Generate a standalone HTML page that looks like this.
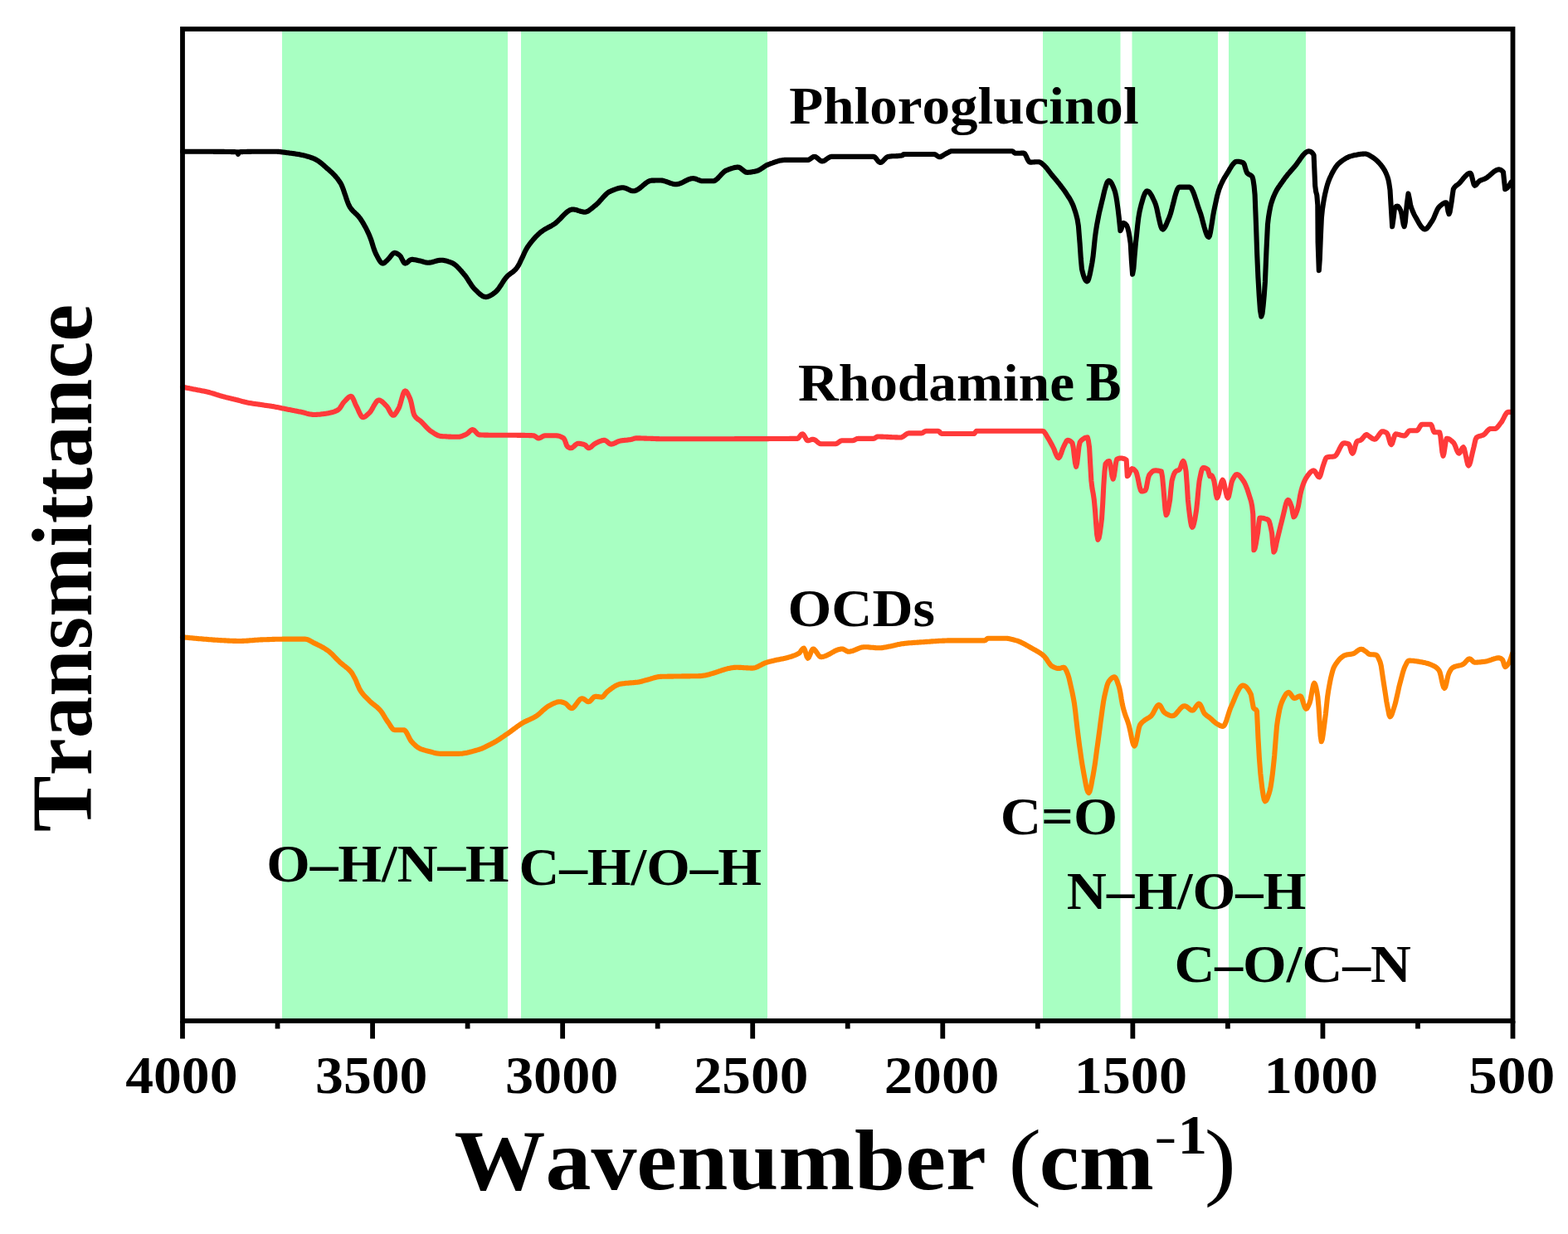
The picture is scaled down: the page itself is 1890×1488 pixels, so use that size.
<!DOCTYPE html>
<html><head><meta charset="utf-8"><title>FTIR spectra</title>
<style>
html,body{margin:0;padding:0;background:#fff;}
svg{display:block;}
#w{width:1890px;height:1488px;}
text{font-family:'Liberation Serif','Times New Roman',serif;font-weight:bold;fill:#000;font-kerning:none;}
</style></head><body>
<div id="w"><svg width="1890" height="1488" viewBox="0 0 1890 1488">
<rect width="1890" height="1488" fill="#fff"/>
<rect x="340" y="35.0" width="272" height="1196.0" fill="#a8ffc2"/>
<rect x="628" y="35.0" width="297" height="1196.0" fill="#a8ffc2"/>
<rect x="1257" y="35.0" width="93.5" height="1196.0" fill="#a8ffc2"/>
<rect x="1364.5" y="35.0" width="103.5" height="1196.0" fill="#a8ffc2"/>
<rect x="1481" y="35.0" width="93" height="1196.0" fill="#a8ffc2"/>
<g fill="none" stroke-linejoin="round" stroke-linecap="round" stroke-width="6.1">
<polyline stroke="#000" points="220.0,182.7 221.0,182.7 222.0,182.7 223.0,182.7 224.0,182.7 225.0,182.7 226.0,182.7 227.0,182.7 228.0,182.7 229.0,182.8 230.0,182.8 231.0,182.8 232.0,182.8 233.0,182.8 234.0,182.8 235.0,182.8 236.0,182.8 237.0,182.8 238.0,182.8 239.0,182.8 240.0,182.8 241.0,182.8 242.0,182.8 243.0,182.8 244.0,182.8 245.0,182.8 246.0,182.8 247.0,182.8 248.0,182.8 249.0,182.8 250.0,182.8 251.0,182.8 252.0,182.8 253.0,182.8 254.0,182.8 255.0,182.8 256.0,182.8 257.0,182.8 258.0,182.9 259.0,182.9 260.0,182.9 261.0,182.9 262.0,182.9 263.0,182.9 264.0,182.9 265.0,182.9 266.0,182.9 267.0,182.9 268.0,182.9 269.0,182.9 270.0,182.9 271.0,183.0 272.0,183.0 273.0,183.0 274.0,183.0 275.0,183.0 276.0,183.0 277.0,183.0 278.0,183.0 279.0,183.1 280.0,183.1 281.0,183.1 282.0,183.1 283.0,183.1 284.0,183.2 285.0,183.2 286.0,183.2 287.0,185.8 288.0,183.2 289.0,183.2 290.0,183.1 291.0,183.1 292.0,183.1 293.0,183.0 294.0,183.0 295.0,183.0 296.0,183.0 297.0,183.0 298.0,182.9 299.0,182.9 300.0,182.9 301.0,182.9 302.0,182.9 303.0,182.8 304.0,182.8 305.0,182.8 306.0,182.8 307.0,182.8 308.0,182.8 309.0,182.8 310.0,182.8 311.0,182.8 312.0,182.7 313.0,182.7 314.0,182.7 315.0,182.7 316.0,182.7 317.0,182.7 318.0,182.7 319.0,182.7 320.0,182.7 321.0,182.7 322.0,182.7 323.0,182.7 324.0,182.7 325.0,182.7 326.0,182.7 327.0,182.7 328.0,182.7 329.0,182.7 330.0,182.7 331.0,182.7 332.0,182.7 333.0,182.7 334.0,182.8 335.0,182.9 336.0,182.9 337.0,183.0 338.0,183.1 339.0,183.3 340.0,183.4 341.0,183.5 342.0,183.6 343.0,183.8 344.0,183.9 345.0,184.0 346.0,184.2 347.0,184.3 348.1,184.4 349.1,184.6 350.2,184.7 351.2,184.8 352.3,185.0 353.4,185.1 354.4,185.3 355.5,185.4 356.5,185.6 357.6,185.7 358.7,185.9 359.7,186.1 360.8,186.3 361.8,186.5 362.9,186.7 364.0,186.9 365.0,187.1 366.1,187.4 367.1,187.6 368.2,187.9 369.2,188.2 370.3,188.5 371.3,188.8 372.4,189.1 373.4,189.4 374.5,189.8 375.5,190.2 376.6,190.5 377.6,191.0 378.7,191.4 379.8,191.9 380.8,192.4 381.9,193.1 382.9,193.7 384.0,194.4 385.1,195.2 386.1,196.0 387.2,196.8 388.2,197.7 389.3,198.6 390.4,199.5 391.4,200.5 392.5,201.4 393.5,202.4 394.6,203.3 395.7,204.2 396.7,205.2 397.8,206.1 398.8,207.1 399.9,208.1 401.0,209.1 402.0,210.1 403.1,211.2 404.1,212.4 405.2,213.6 406.3,214.9 407.3,216.2 408.4,217.7 409.4,219.2 410.5,220.8 411.5,222.7 412.5,225.0 413.5,227.6 414.5,230.5 415.5,233.5 416.6,236.6 417.6,239.7 418.6,242.6 419.6,245.2 420.6,247.5 421.6,249.4 422.7,251.0 423.7,252.4 424.8,253.6 425.8,254.8 426.9,255.8 428.0,256.8 429.0,257.8 430.1,258.8 431.1,259.9 432.2,261.0 433.2,262.3 434.3,263.7 435.3,265.2 436.3,266.7 437.3,268.4 438.3,270.1 439.3,271.9 440.4,273.8 441.4,275.7 442.4,277.8 443.4,279.9 444.4,282.1 445.4,284.3 446.5,287.1 447.7,290.4 448.8,294.0 449.9,297.6 451.0,301.0 452.2,304.0 453.3,306.5 454.3,308.4 455.3,310.3 456.3,312.2 457.3,313.9 458.3,315.4 459.3,316.6 460.3,317.3 461.3,317.6 462.4,317.4 463.4,316.8 464.5,315.9 465.5,314.9 466.6,313.9 467.6,312.9 468.6,311.9 469.6,310.7 470.6,309.4 471.6,308.1 472.6,306.8 473.6,305.8 474.6,305.2 475.6,304.9 476.7,305.0 477.7,305.4 478.8,305.9 479.8,306.6 480.8,307.3 481.9,308.1 483.0,309.4 484.0,311.3 485.1,313.5 486.2,315.5 487.2,317.0 488.3,317.6 489.4,317.3 490.6,316.7 491.7,315.8 492.8,314.7 493.9,313.8 495.1,313.2 496.2,312.9 497.3,312.9 498.3,313.0 499.4,313.2 500.4,313.3 501.5,313.5 502.5,313.7 503.6,314.0 504.6,314.2 505.7,314.4 506.7,314.6 507.7,314.9 508.8,315.2 509.8,315.5 510.8,315.8 511.8,316.1 512.8,316.4 513.9,316.6 514.9,316.8 515.9,316.8 517.0,316.8 518.0,316.6 519.1,316.5 520.1,316.3 521.2,316.0 522.2,315.7 523.3,315.4 524.3,315.1 525.4,314.8 526.4,314.5 527.5,314.2 528.5,314.0 529.6,313.9 530.6,313.7 531.7,313.7 532.8,313.7 533.8,313.8 534.9,314.0 535.9,314.1 537.0,314.4 538.0,314.6 539.1,314.9 540.2,315.3 541.2,315.6 542.3,316.0 543.3,316.4 544.4,316.8 545.5,317.3 546.5,317.9 547.6,318.6 548.6,319.4 549.7,320.2 550.8,321.2 551.8,322.3 552.9,323.4 553.9,324.5 555.0,325.7 556.1,326.9 557.1,328.2 558.2,329.4 559.2,330.7 560.3,331.9 561.3,333.2 562.3,334.6 563.3,336.1 564.3,337.7 565.3,339.3 566.4,340.9 567.4,342.5 568.4,344.0 569.4,345.4 570.4,346.7 571.4,347.8 572.4,348.8 573.4,349.8 574.5,350.9 575.5,351.9 576.5,352.9 577.5,353.8 578.5,354.7 579.6,355.5 580.6,356.2 581.6,356.9 582.6,357.4 583.7,357.8 584.7,358.0 585.7,358.1 586.7,358.0 587.7,357.8 588.7,357.5 589.7,357.1 590.7,356.6 591.8,356.0 592.8,355.4 593.8,354.7 594.8,354.0 595.8,353.2 596.8,352.5 597.8,351.7 598.8,350.6 599.9,349.4 600.9,348.1 601.9,346.7 602.9,345.1 604.0,343.6 605.0,342.0 606.0,340.4 607.0,338.8 608.0,337.3 609.1,335.9 610.1,334.6 611.1,333.5 612.1,332.5 613.1,331.6 614.1,330.8 615.1,330.0 616.1,329.3 617.2,328.6 618.2,327.8 619.2,327.0 620.2,326.1 621.2,325.1 622.2,324.0 623.2,322.7 624.2,321.1 625.3,319.3 626.3,317.4 627.3,315.3 628.3,313.1 629.4,310.9 630.4,308.7 631.4,306.5 632.4,304.3 633.4,302.2 634.5,300.3 635.5,298.5 636.5,297.0 637.6,295.5 638.6,294.1 639.7,292.7 640.7,291.4 641.8,290.1 642.9,288.8 643.9,287.6 645.0,286.4 646.0,285.3 647.1,284.2 648.2,283.2 649.2,282.2 650.3,281.2 651.3,280.3 652.4,279.5 653.5,278.7 654.5,278.0 655.6,277.3 656.6,276.6 657.7,276.0 658.8,275.4 659.8,274.8 660.9,274.3 661.9,273.7 663.0,273.1 664.1,272.6 665.1,272.0 666.2,271.3 667.2,270.7 668.3,270.0 669.3,269.3 670.3,268.5 671.3,267.6 672.3,266.7 673.3,265.7 674.4,264.6 675.4,263.6 676.4,262.5 677.4,261.5 678.4,260.4 679.4,259.4 680.4,258.4 681.4,257.4 682.4,256.5 683.4,255.7 684.4,254.9 685.5,254.2 686.5,253.6 687.5,253.1 688.5,252.8 689.5,252.6 690.5,252.5 691.5,252.5 692.5,252.7 693.6,252.9 694.6,253.1 695.6,253.4 696.6,253.8 697.6,254.1 698.7,254.4 699.7,254.8 700.7,255.1 701.7,255.3 702.8,255.5 703.8,255.7 704.8,255.7 705.9,255.6 706.9,255.3 708.0,254.9 709.0,254.4 710.1,253.7 711.1,252.9 712.2,252.1 713.3,251.3 714.3,250.4 715.4,249.5 716.4,248.6 717.5,247.8 718.5,247.0 719.5,246.1 720.6,245.1 721.6,244.0 722.6,242.9 723.6,241.7 724.7,240.6 725.7,239.4 726.7,238.2 727.7,237.1 728.8,236.0 729.8,235.0 730.8,234.0 731.8,233.1 732.9,232.3 733.9,231.6 734.9,231.1 736.0,230.6 737.0,230.1 738.1,229.7 739.1,229.2 740.2,228.8 741.3,228.4 742.3,228.0 743.4,227.6 744.4,227.3 745.5,227.0 746.6,226.8 747.6,226.6 748.7,226.4 749.7,226.3 750.8,226.3 751.9,226.4 752.9,226.6 754.0,226.9 755.0,227.3 756.1,227.8 757.1,228.3 758.2,228.8 759.3,229.3 760.3,229.7 761.4,230.0 762.4,230.2 763.5,230.3 764.5,230.2 765.5,230.0 766.5,229.7 767.5,229.2 768.5,228.6 769.6,228.0 770.6,227.3 771.6,226.5 772.6,225.7 773.6,224.9 774.6,224.0 775.6,223.1 776.6,222.3 777.6,221.5 778.6,220.7 779.6,220.0 780.7,219.3 781.7,218.8 782.7,218.3 783.7,217.9 784.7,217.7 785.7,217.6 786.7,217.6 787.7,217.6 788.8,217.6 789.8,217.5 790.8,217.5 791.8,217.5 792.8,217.5 793.9,217.5 794.9,217.5 795.9,217.5 796.9,217.5 797.9,217.6 798.9,217.8 799.9,218.0 800.9,218.3 801.9,218.6 802.9,218.9 803.9,219.3 804.9,219.7 805.9,220.0 806.9,220.4 807.9,220.8 808.9,221.1 809.9,221.4 810.9,221.7 811.9,221.9 812.9,222.1 813.9,222.2 814.9,222.2 815.9,222.1 817.0,222.0 818.0,221.8 819.0,221.5 820.1,221.1 821.1,220.7 822.1,220.2 823.2,219.7 824.2,219.2 825.2,218.6 826.3,218.1 827.3,217.6 828.4,217.1 829.4,216.6 830.4,216.2 831.5,215.8 832.5,215.5 833.5,215.3 834.6,215.2 835.6,215.1 836.6,215.2 837.6,215.4 838.6,215.7 839.6,216.1 840.6,216.5 841.7,216.9 842.7,217.3 843.7,217.7 844.7,218.0 845.7,218.2 846.7,218.3 847.8,218.3 848.8,218.3 849.9,218.3 850.9,218.3 852.0,218.3 853.0,218.3 854.1,218.3 855.2,218.3 856.2,218.3 857.3,218.3 858.3,218.3 859.4,218.3 860.5,218.2 861.5,217.8 862.6,217.2 863.6,216.4 864.7,215.5 865.7,214.5 866.8,213.3 867.8,212.2 868.9,211.0 869.9,209.9 871.0,208.8 872.0,207.8 873.1,206.9 874.1,206.1 875.2,205.6 876.2,205.2 877.2,204.8 878.3,204.3 879.3,203.9 880.3,203.6 881.3,203.2 882.4,202.9 883.4,202.6 884.4,202.3 885.4,202.0 886.4,201.9 887.5,201.7 888.5,201.6 889.5,201.6 890.5,201.7 891.5,202.1 892.5,202.8 893.5,203.5 894.5,204.3 895.6,205.2 896.6,206.0 897.6,206.7 898.6,207.4 899.6,207.8 900.6,207.9 901.6,207.9 902.6,207.8 903.6,207.7 904.6,207.6 905.6,207.5 906.7,207.3 907.7,207.1 908.7,206.9 909.7,206.7 910.7,206.5 911.7,206.3 912.7,206.0 913.7,205.6 914.8,205.1 915.8,204.6 916.8,204.0 917.8,203.3 918.9,202.6 919.9,201.9 920.9,201.2 921.9,200.5 922.9,199.9 924.0,199.3 925.0,198.8 926.0,198.4 927.0,198.0 928.1,197.6 929.1,197.2 930.1,196.9 931.2,196.5 932.2,196.1 933.2,195.7 934.3,195.4 935.3,195.0 936.4,194.7 937.4,194.4 938.4,194.1 939.5,193.8 940.5,193.6 941.5,193.4 942.6,193.2 943.6,193.1 944.6,193.0 945.7,192.9 946.7,192.9 947.7,192.9 948.7,192.9 949.7,192.9 950.7,192.9 951.7,192.9 952.7,192.9 953.7,192.9 954.7,192.9 955.7,192.9 956.7,192.9 957.7,192.9 958.7,192.9 959.7,192.9 960.7,192.9 961.7,192.9 962.7,192.9 963.7,192.9 964.7,192.9 965.7,192.9 966.7,192.9 967.7,192.9 968.7,192.9 969.7,192.9 970.7,192.9 971.7,192.9 972.7,192.9 973.7,192.9 974.8,192.7 976.0,192.1 977.1,191.3 978.2,190.5 979.3,189.7 980.5,189.1 981.6,188.9 982.7,189.1 983.7,189.6 984.8,190.3 985.8,191.2 986.9,192.1 987.9,193.0 989.0,193.7 990.0,194.2 991.1,194.4 992.1,194.3 993.1,193.9 994.1,193.4 995.1,192.7 996.1,192.0 997.2,191.3 998.2,190.6 999.2,189.9 1000.2,189.4 1001.2,189.0 1002.2,188.9 1003.2,188.9 1004.2,188.9 1005.2,188.9 1006.3,188.9 1007.3,188.9 1008.3,188.9 1009.3,188.9 1010.3,188.9 1011.3,188.9 1012.4,188.9 1013.4,188.9 1014.4,188.9 1015.4,188.9 1016.4,188.9 1017.4,188.9 1018.5,188.9 1019.5,188.9 1020.5,188.9 1021.5,188.9 1022.5,188.9 1023.5,188.9 1024.6,188.9 1025.6,188.9 1026.6,188.9 1027.6,188.9 1028.6,188.9 1029.6,188.9 1030.6,188.9 1031.7,188.9 1032.7,188.9 1033.7,188.9 1034.7,188.9 1035.7,188.9 1036.7,188.9 1037.8,188.9 1038.8,188.9 1039.8,188.9 1040.8,188.9 1041.8,188.9 1042.8,188.9 1043.9,188.9 1044.9,188.9 1045.9,188.9 1046.9,188.9 1047.9,188.9 1048.9,188.9 1050.0,188.9 1051.0,188.9 1052.0,188.9 1053.0,188.9 1054.0,189.2 1055.0,190.0 1056.0,191.1 1057.0,192.4 1058.0,193.8 1059.0,194.9 1060.0,195.7 1061.0,196.0 1062.1,195.8 1063.1,195.2 1064.2,194.3 1065.2,193.2 1066.3,192.1 1067.3,191.0 1068.4,190.0 1069.4,189.3 1070.5,188.9 1071.5,188.7 1072.5,188.6 1073.6,188.5 1074.6,188.4 1075.6,188.3 1076.6,188.3 1077.7,188.3 1078.7,188.2 1079.7,188.2 1080.7,188.1 1081.8,188.1 1082.8,188.0 1083.8,187.9 1084.8,187.8 1085.9,187.7 1086.9,187.5 1087.9,187.3 1089.2,186.0 1090.2,186.0 1091.2,186.0 1092.3,186.0 1093.3,186.0 1094.3,186.0 1095.3,186.0 1096.4,186.0 1097.4,186.0 1098.4,186.0 1099.4,186.0 1100.4,186.0 1101.5,186.0 1102.5,186.0 1103.5,186.0 1104.5,186.0 1105.6,186.0 1106.6,186.0 1107.6,186.0 1108.6,186.0 1109.6,186.0 1110.7,186.0 1111.7,186.0 1112.7,186.0 1113.7,186.0 1114.8,186.0 1115.8,186.0 1116.8,186.0 1117.8,186.0 1118.8,186.0 1119.9,186.0 1120.9,186.0 1121.9,186.0 1122.9,186.0 1124.0,186.0 1125.0,186.0 1126.0,186.0 1127.1,186.2 1128.1,186.8 1129.2,187.6 1130.3,188.4 1131.3,189.0 1132.4,189.2 1133.5,189.1 1134.6,188.6 1135.7,188.1 1136.7,187.4 1137.8,186.7 1138.9,186.0 1140.0,185.4 1141.1,184.9 1142.2,184.3 1143.3,183.7 1144.3,183.1 1145.4,182.6 1146.5,182.3 1147.6,182.2 1148.6,182.2 1149.6,182.2 1150.6,182.2 1151.6,182.2 1152.6,182.2 1153.6,182.2 1154.6,182.2 1155.6,182.2 1156.6,182.2 1157.7,182.2 1158.7,182.2 1159.7,182.2 1160.7,182.2 1161.7,182.2 1162.7,182.2 1163.7,182.2 1164.7,182.2 1165.7,182.2 1166.7,182.2 1167.7,182.2 1168.7,182.2 1169.7,182.2 1170.7,182.2 1171.7,182.2 1172.7,182.2 1173.7,182.2 1174.8,182.2 1175.8,182.2 1176.8,182.2 1177.8,182.2 1178.8,182.2 1179.8,182.2 1180.8,182.2 1181.8,182.2 1182.8,182.2 1183.8,182.2 1184.8,182.2 1185.8,182.2 1186.8,182.2 1187.8,182.2 1188.8,182.2 1189.8,182.2 1190.8,182.2 1191.8,182.2 1192.8,182.2 1193.9,182.2 1194.9,182.2 1195.9,182.2 1196.9,182.2 1197.9,182.2 1198.9,182.2 1199.9,182.2 1200.9,182.2 1201.9,182.2 1202.9,182.2 1203.9,182.2 1204.9,182.2 1205.9,182.2 1206.9,182.2 1207.9,182.2 1208.9,182.2 1209.9,182.2 1211.0,182.2 1212.0,182.2 1213.0,182.2 1214.0,182.2 1215.0,182.2 1216.0,182.2 1217.0,182.2 1218.0,182.2 1219.0,182.2 1220.0,182.2 1221.3,182.9 1222.5,184.1 1223.8,184.8 1224.8,184.8 1225.8,184.8 1226.9,184.8 1227.9,184.7 1228.9,184.7 1229.9,184.7 1230.9,184.6 1232.0,184.6 1233.0,184.6 1234.0,184.6 1235.1,185.2 1236.1,186.8 1237.2,188.9 1238.2,191.3 1239.3,193.4 1240.3,195.0 1241.4,195.6 1242.5,195.6 1243.6,195.6 1244.6,195.5 1245.7,195.5 1246.8,195.4 1247.9,195.3 1249.0,195.3 1250.0,195.2 1251.1,195.2 1252.2,195.2 1253.2,195.4 1254.2,195.9 1255.2,196.6 1256.2,197.4 1257.2,198.3 1258.2,199.2 1259.2,200.2 1260.3,201.3 1261.3,202.5 1262.4,203.8 1263.4,205.2 1264.5,206.5 1265.5,207.9 1266.6,209.3 1267.6,210.6 1268.6,211.9 1269.7,213.1 1270.7,214.3 1271.8,215.6 1272.8,216.8 1273.9,218.1 1274.9,219.4 1276.0,220.7 1277.0,222.0 1278.1,223.4 1279.2,224.9 1280.3,226.3 1281.4,227.8 1282.5,229.3 1283.6,230.8 1284.7,232.4 1285.8,234.1 1286.9,235.8 1288.0,237.5 1289.2,239.3 1290.3,241.2 1291.4,243.3 1292.5,245.6 1293.7,248.3 1294.8,251.4 1296.0,254.9 1297.2,259.0 1298.6,264.5 1299.9,272.4 1301.6,293.6 1302.8,311.6 1304.0,324.6 1305.1,328.9 1306.1,332.5 1307.2,335.4 1308.3,337.6 1309.3,338.9 1310.4,339.3 1311.4,338.4 1312.4,335.8 1313.4,332.0 1314.4,327.3 1315.4,322.1 1316.4,316.8 1317.6,308.7 1318.7,298.1 1319.8,287.2 1321.0,278.2 1322.0,271.9 1323.1,266.2 1324.1,260.9 1325.1,256.0 1326.2,251.5 1327.2,247.3 1328.2,243.1 1329.3,238.7 1330.3,234.3 1331.3,230.0 1332.4,226.2 1333.4,222.8 1334.4,220.2 1335.5,218.5 1336.5,217.9 1337.6,218.3 1338.7,219.3 1339.8,221.0 1340.9,223.1 1342.0,225.7 1343.1,228.6 1344.2,231.8 1345.3,236.8 1346.5,244.3 1347.7,253.2 1348.8,262.7 1350.4,278.2 1351.7,275.8 1352.9,271.3 1354.2,268.9 1355.5,269.3 1356.8,270.4 1358.1,272.0 1359.2,274.6 1360.4,279.2 1361.5,285.6 1362.7,293.6 1363.9,314.4 1365.1,330.7 1366.4,323.6 1367.6,308.3 1368.9,293.6 1370.1,282.6 1371.2,271.6 1372.4,261.9 1373.6,255.0 1374.6,250.7 1375.6,246.6 1376.7,242.8 1377.7,239.3 1378.7,236.3 1379.7,233.8 1380.8,231.9 1381.8,230.7 1382.8,230.3 1383.8,230.6 1384.9,231.3 1385.9,232.5 1386.9,234.0 1388.0,235.7 1389.0,237.7 1390.0,239.8 1391.1,242.0 1392.1,244.2 1393.1,247.0 1394.2,250.9 1395.2,255.5 1396.2,260.4 1397.3,265.2 1398.3,269.6 1399.3,273.3 1400.4,275.7 1401.4,276.6 1402.5,276.1 1403.6,274.8 1404.7,272.9 1405.8,270.6 1406.9,267.9 1408.0,265.3 1409.1,262.7 1410.1,260.1 1411.2,256.8 1412.2,253.1 1413.2,249.0 1414.3,244.9 1415.3,240.7 1416.3,236.8 1417.4,233.2 1418.4,230.1 1419.4,227.7 1420.5,226.2 1421.5,225.6 1422.5,225.6 1423.5,225.6 1424.6,225.6 1425.6,225.6 1426.6,225.6 1427.7,225.6 1428.7,225.6 1429.7,225.6 1430.7,225.6 1431.8,225.6 1432.8,225.6 1433.8,225.6 1434.8,226.0 1435.9,227.0 1436.9,228.7 1437.9,230.8 1439.0,233.4 1440.0,236.3 1441.0,239.4 1442.1,242.6 1443.1,245.9 1444.1,249.1 1445.2,252.2 1446.2,255.0 1447.3,258.1 1448.4,261.8 1449.4,265.8 1450.5,269.9 1451.6,274.0 1452.7,277.7 1453.8,281.0 1454.8,283.6 1455.9,285.3 1457.0,285.9 1458.0,284.3 1459.0,280.0 1460.0,274.0 1461.1,267.2 1462.1,260.5 1463.1,255.0 1464.1,250.1 1465.2,245.2 1466.2,240.4 1467.2,236.0 1468.3,232.0 1469.3,228.7 1470.3,226.0 1471.3,223.5 1472.4,221.2 1473.4,219.0 1474.4,217.1 1475.4,215.2 1476.5,213.5 1477.5,211.8 1478.5,210.2 1479.5,208.5 1480.6,206.8 1481.6,205.1 1482.6,203.3 1483.7,201.6 1484.7,200.0 1485.7,198.6 1486.8,197.3 1487.8,196.2 1488.8,195.4 1489.9,194.9 1490.9,194.7 1492.0,194.7 1493.1,194.8 1494.2,195.0 1495.3,195.2 1496.4,195.5 1497.5,195.9 1498.6,196.3 1499.8,198.2 1500.9,202.0 1502.1,206.0 1503.3,208.6 1504.3,209.6 1505.4,210.2 1506.4,210.7 1507.4,211.3 1508.5,212.0 1509.5,213.3 1510.5,216.9 1511.6,224.2 1512.6,234.9 1514.1,273.6 1515.2,306.2 1516.4,333.8 1517.7,356.2 1519.0,374.3 1520.3,381.7 1521.5,378.3 1522.6,369.0 1523.8,355.7 1524.9,340.0 1526.5,301.4 1528.0,270.5 1529.0,262.0 1530.1,255.3 1531.1,250.1 1532.1,245.9 1533.2,242.5 1534.2,239.6 1535.2,236.9 1536.3,234.5 1537.3,232.3 1538.3,230.3 1539.4,228.4 1540.4,226.7 1541.4,225.2 1542.5,223.7 1543.5,222.2 1544.5,220.8 1545.6,219.4 1546.6,217.9 1547.7,216.4 1548.7,214.9 1549.8,213.5 1550.9,212.2 1551.9,210.8 1553.0,209.5 1554.1,208.3 1555.2,207.0 1556.2,205.8 1557.3,204.6 1558.4,203.3 1559.4,202.1 1560.5,200.9 1561.5,199.7 1562.5,198.4 1563.5,197.0 1564.5,195.6 1565.5,194.2 1566.5,192.7 1567.5,191.3 1568.5,189.9 1569.5,188.5 1570.5,187.3 1571.5,186.1 1572.5,185.1 1573.5,184.2 1574.5,183.4 1575.5,182.9 1576.5,182.5 1577.5,182.4 1578.5,182.5 1579.5,182.8 1580.5,183.3 1581.6,184.2 1582.6,185.4 1583.6,187.0 1585.2,224.1 1586.2,231.3 1587.3,235.3 1588.3,247.3 1588.6,292.1 1589.8,326.1 1590.8,312.2 1591.9,284.2 1592.9,262.7 1593.9,252.9 1595.0,245.5 1596.0,239.6 1597.0,234.5 1598.1,229.9 1599.1,225.8 1600.1,222.2 1601.2,219.1 1602.2,216.4 1603.2,214.0 1604.3,211.8 1605.3,209.6 1606.3,207.6 1607.4,205.7 1608.4,204.0 1609.4,202.4 1610.5,200.9 1611.5,199.5 1612.5,198.3 1613.6,197.2 1614.6,196.3 1615.6,195.5 1616.7,194.6 1617.7,193.9 1618.7,193.1 1619.7,192.5 1620.8,191.8 1621.8,191.2 1622.8,190.6 1623.8,190.1 1624.9,189.6 1625.9,189.1 1626.9,188.7 1627.9,188.4 1629.0,188.1 1630.0,187.8 1631.0,187.6 1632.1,187.3 1633.1,187.1 1634.1,186.9 1635.2,186.7 1636.2,186.5 1637.2,186.3 1638.3,186.1 1639.3,186.0 1640.3,185.8 1641.4,185.7 1642.4,185.6 1643.4,185.6 1644.5,185.5 1645.5,185.5 1646.6,185.6 1647.6,185.9 1648.7,186.3 1649.8,186.8 1650.8,187.4 1651.9,188.1 1652.9,188.7 1654.0,189.4 1655.1,190.1 1656.2,190.8 1657.2,191.6 1658.3,192.5 1659.4,193.5 1660.5,194.5 1661.5,195.6 1662.6,196.8 1663.7,198.0 1664.8,199.3 1665.8,200.6 1666.9,202.1 1668.0,203.8 1669.1,205.6 1670.2,207.8 1671.2,210.2 1672.3,213.0 1673.4,216.5 1674.4,221.6 1675.5,229.1 1676.6,247.4 1678.2,273.2 1679.6,263.1 1680.9,251.7 1682.0,250.0 1683.0,248.9 1684.1,248.5 1685.2,248.9 1686.2,250.1 1687.3,251.9 1688.4,253.9 1689.5,258.1 1690.6,264.6 1691.6,270.6 1692.7,273.2 1693.8,267.9 1694.8,256.3 1695.9,245.3 1697.5,233.4 1698.8,239.3 1700.2,247.4 1701.3,250.8 1702.4,253.8 1703.5,256.3 1704.5,258.6 1705.6,260.6 1706.7,262.5 1707.8,264.4 1708.8,266.3 1709.9,268.2 1711.0,270.1 1712.1,271.8 1713.1,273.3 1714.2,274.6 1715.3,275.6 1716.3,276.3 1717.4,276.5 1718.5,276.3 1719.6,275.6 1720.6,274.5 1721.7,273.2 1722.8,271.7 1723.8,270.1 1724.9,268.4 1726.0,266.8 1727.1,265.0 1728.2,262.8 1729.2,260.3 1730.3,257.7 1731.4,255.2 1732.4,252.9 1733.5,251.0 1734.6,249.6 1735.7,248.6 1736.8,247.6 1737.8,246.7 1738.9,245.9 1740.0,245.2 1741.0,244.7 1742.1,244.3 1743.2,244.2 1744.3,247.8 1745.4,254.6 1746.5,258.2 1747.6,255.7 1748.6,249.7 1749.7,243.1 1750.8,234.6 1751.8,228.1 1752.9,226.2 1754.0,224.9 1755.0,224.0 1756.1,223.2 1757.2,222.5 1758.3,221.6 1759.3,220.6 1760.3,219.5 1761.3,218.3 1762.3,217.1 1763.3,215.8 1764.3,214.6 1765.3,213.5 1766.3,212.4 1767.3,211.4 1768.3,210.5 1769.3,209.7 1770.3,209.2 1771.3,208.8 1772.3,208.7 1773.4,210.3 1774.4,214.0 1775.5,218.5 1776.5,222.2 1777.6,223.8 1778.7,223.3 1779.8,222.2 1780.8,220.8 1781.9,219.4 1783.0,218.4 1784.1,217.8 1785.1,217.3 1786.2,216.9 1787.3,216.5 1788.4,216.1 1789.4,215.7 1790.5,215.2 1791.5,214.6 1792.5,214.0 1793.5,213.2 1794.5,212.4 1795.6,211.5 1796.6,210.6 1797.6,209.7 1798.6,208.8 1799.6,207.9 1800.6,207.1 1801.6,206.4 1802.7,205.7 1803.7,205.2 1804.7,204.8 1805.7,204.5 1806.7,204.4 1807.8,204.5 1808.8,204.9 1809.9,205.5 1810.9,206.4 1812.0,207.6 1813.1,218.2 1814.2,228.1 1815.3,227.7 1816.3,226.9 1817.4,225.9 1818.5,224.6 1819.6,223.0 1820.6,221.2 1821.7,219.5"/>
<polyline stroke="#ff3a3a" points="220.0,466.7 221.1,466.9 222.1,467.1 223.2,467.3 224.2,467.5 225.3,467.7 226.4,467.9 227.4,468.1 228.5,468.3 229.5,468.6 230.6,468.8 231.7,469.0 232.7,469.2 233.8,469.4 234.8,469.6 235.9,469.8 237.0,470.0 238.0,470.2 239.1,470.4 240.1,470.6 241.2,470.8 242.2,471.0 243.3,471.2 244.3,471.4 245.4,471.6 246.4,471.8 247.5,472.1 248.5,472.3 249.6,472.5 250.6,472.7 251.7,473.0 252.8,473.3 253.8,473.6 254.9,473.9 255.9,474.2 257.0,474.5 258.1,474.8 259.1,475.2 260.2,475.5 261.2,475.9 262.3,476.2 263.4,476.5 264.4,476.9 265.5,477.2 266.5,477.5 267.6,477.8 268.7,478.1 269.7,478.4 270.8,478.6 271.8,478.9 272.9,479.2 274.0,479.4 275.0,479.7 276.1,479.9 277.1,480.2 278.2,480.4 279.3,480.7 280.3,480.9 281.4,481.2 282.4,481.4 283.5,481.7 284.6,482.0 285.6,482.2 286.7,482.5 287.7,482.8 288.8,483.1 289.9,483.4 290.9,483.7 292.0,484.0 293.0,484.2 294.1,484.5 295.2,484.8 296.2,485.0 297.3,485.3 298.3,485.5 299.4,485.7 300.5,485.9 301.5,486.1 302.6,486.3 303.6,486.4 304.7,486.6 305.7,486.7 306.8,486.9 307.8,487.0 308.9,487.2 309.9,487.3 311.0,487.5 312.0,487.6 313.1,487.8 314.1,487.9 315.2,488.1 316.3,488.3 317.3,488.4 318.4,488.6 319.4,488.7 320.5,488.9 321.6,489.0 322.6,489.2 323.7,489.3 324.7,489.5 325.8,489.6 326.9,489.8 327.9,490.0 329.0,490.1 330.0,490.3 331.1,490.5 332.2,490.7 333.2,490.9 334.3,491.1 335.3,491.3 336.4,491.5 337.5,491.7 338.5,491.9 339.6,492.2 340.6,492.4 341.7,492.6 342.8,492.8 343.8,493.1 344.9,493.3 345.9,493.5 347.0,493.7 348.1,493.9 349.1,494.1 350.2,494.3 351.2,494.5 352.3,494.7 353.4,494.9 354.4,495.1 355.5,495.4 356.5,495.6 357.6,495.8 358.7,496.0 359.7,496.2 360.8,496.4 361.8,496.6 362.9,496.8 364.0,497.0 365.0,497.3 366.1,497.5 367.1,497.8 368.2,498.1 369.2,498.4 370.3,498.7 371.3,498.9 372.4,499.2 373.4,499.4 374.5,499.6 375.5,499.8 376.6,499.9 377.6,500.0 378.7,500.0 379.8,500.0 380.8,500.0 381.9,499.9 382.9,499.8 384.0,499.8 385.1,499.7 386.1,499.6 387.2,499.4 388.2,499.3 389.3,499.2 390.4,499.0 391.4,498.9 392.5,498.7 393.5,498.6 394.6,498.4 395.7,498.2 396.7,498.0 397.8,497.8 398.8,497.6 399.9,497.3 401.0,497.0 402.0,496.7 403.1,496.3 404.1,495.9 405.2,495.4 406.2,494.9 407.3,494.4 408.4,493.5 409.6,492.2 410.7,490.6 411.8,488.8 412.9,487.0 414.1,485.4 415.2,484.1 416.2,483.1 417.2,482.0 418.2,481.0 419.2,480.0 420.2,479.1 421.2,478.4 422.2,478.0 423.2,477.8 424.2,478.4 425.3,480.1 426.4,482.3 427.4,484.9 428.4,487.5 429.5,489.7 430.5,491.6 431.5,493.8 432.5,496.1 433.5,498.2 434.5,500.2 435.5,501.8 436.5,502.8 437.5,503.2 438.6,503.0 439.8,502.5 440.9,501.8 442.0,500.8 443.1,499.8 444.3,498.7 445.4,497.6 446.4,496.5 447.4,495.0 448.4,493.4 449.4,491.6 450.4,489.7 451.5,487.9 452.5,486.2 453.5,484.7 454.5,483.5 455.5,482.8 456.5,482.5 457.6,482.6 458.6,483.0 459.7,483.7 460.7,484.5 461.8,485.4 462.8,486.4 463.9,487.5 464.9,488.6 466.0,489.7 467.0,490.9 468.0,492.5 469.0,494.4 470.0,496.2 471.0,498.0 472.0,499.4 473.0,500.4 474.0,500.8 475.1,500.5 476.1,499.5 477.1,498.2 478.2,496.5 479.2,494.7 480.3,492.9 481.3,490.7 482.3,487.6 483.3,484.1 484.3,480.5 485.3,477.0 486.3,474.1 487.3,472.1 488.3,471.4 489.4,471.8 490.4,473.0 491.5,474.7 492.5,476.8 493.6,479.2 494.6,481.7 495.8,485.9 497.0,491.7 498.2,497.3 499.4,500.8 500.5,502.3 501.5,503.5 502.6,504.5 503.6,505.4 504.7,506.1 505.8,506.9 506.8,507.7 507.9,508.6 508.9,509.6 509.9,510.7 510.9,511.8 511.9,512.9 512.9,514.0 514.0,515.1 515.0,516.2 516.0,517.2 517.0,518.1 518.0,519.0 519.0,519.7 520.1,520.4 521.1,521.1 522.2,521.8 523.2,522.5 524.3,523.2 525.4,523.8 526.4,524.4 527.5,524.9 528.5,525.3 529.6,525.6 530.6,525.9 531.7,526.0 532.7,526.1 533.8,526.2 534.8,526.2 535.8,526.3 536.9,526.3 537.9,526.4 538.9,526.5 540.0,526.5 541.0,526.6 542.0,526.6 543.1,526.6 544.1,526.7 545.2,526.7 546.2,526.7 547.2,526.7 548.3,526.8 549.3,526.8 550.3,526.8 551.4,526.8 552.4,526.8 553.5,526.7 554.5,526.6 555.6,526.3 556.6,526.0 557.7,525.6 558.7,525.1 559.8,524.7 560.8,524.2 561.9,523.7 563.0,523.0 564.2,522.1 565.3,521.0 566.4,519.9 567.5,519.0 568.7,518.3 569.8,518.1 570.8,518.4 571.8,519.1 572.8,520.1 573.8,521.2 574.8,522.4 575.8,523.4 576.8,524.1 577.8,524.4 578.8,524.4 579.8,524.5 580.8,524.5 581.8,524.5 582.8,524.5 583.8,524.6 584.8,524.6 585.8,524.6 586.8,524.6 587.8,524.6 588.8,524.7 589.8,524.7 590.8,524.7 591.8,524.7 592.8,524.7 593.8,524.7 594.8,524.7 595.8,524.7 596.8,524.7 597.8,524.8 598.8,524.8 599.8,524.8 600.8,524.8 601.8,524.8 602.8,524.8 603.8,524.8 604.8,524.8 605.8,524.8 606.8,524.8 607.8,524.8 608.8,524.8 609.8,524.8 610.9,524.8 611.9,524.8 612.9,524.8 613.9,524.8 614.9,524.8 615.9,524.8 616.9,524.8 617.9,524.8 618.9,524.8 619.9,524.8 620.9,524.8 621.9,524.8 622.9,524.8 623.9,524.9 624.9,524.9 625.9,524.9 626.9,524.9 627.9,524.9 628.9,524.9 629.9,524.9 630.9,524.9 631.9,524.9 632.9,525.0 633.9,525.0 634.9,525.0 635.9,525.0 636.9,525.0 637.9,525.1 638.9,525.1 639.9,525.1 640.9,525.1 641.9,525.2 642.9,525.2 644.0,525.5 645.0,526.1 646.0,526.8 647.1,527.6 648.2,528.2 649.2,528.4 650.3,528.2 651.5,527.8 652.6,527.1 653.7,526.5 654.8,525.8 656.0,525.4 657.1,525.2 658.2,525.2 659.2,525.2 660.3,525.2 661.3,525.2 662.4,525.2 663.5,525.2 664.5,525.2 665.6,525.2 666.6,525.2 667.7,525.2 668.7,525.2 669.8,525.2 670.9,525.2 671.9,525.4 673.0,525.6 674.1,525.9 675.1,526.2 676.2,526.7 677.3,527.2 678.3,527.8 679.4,528.4 680.6,530.3 681.8,533.5 682.9,536.8 684.1,538.7 685.1,539.3 686.1,539.8 687.1,540.2 688.1,540.3 689.2,540.1 690.3,539.4 691.4,538.6 692.5,537.5 693.5,536.5 694.6,535.7 695.7,535.0 696.8,534.8 697.8,534.8 698.8,534.9 699.8,535.0 700.8,535.2 701.8,535.4 702.8,535.7 703.8,536.0 704.8,536.3 706.0,537.1 707.1,538.5 708.3,539.7 709.5,540.3 710.5,540.1 711.5,539.6 712.5,538.9 713.5,538.0 714.5,537.1 715.5,536.2 716.5,535.4 717.5,534.8 718.5,534.3 719.5,533.8 720.5,533.3 721.5,532.8 722.5,532.3 723.6,531.9 724.6,531.6 725.6,531.2 726.6,531.0 727.6,530.9 728.6,530.8 729.7,531.1 730.9,531.8 732.0,532.7 733.1,533.7 734.2,534.6 735.4,535.3 736.5,535.6 737.5,535.5 738.5,535.3 739.5,535.0 740.5,534.6 741.5,534.1 742.6,533.6 743.6,533.1 744.6,532.6 745.6,532.2 746.6,531.9 747.6,531.6 748.7,531.4 749.7,531.3 750.8,531.1 751.8,531.0 752.9,530.9 754.0,530.8 755.0,530.7 756.1,530.6 757.1,530.4 758.2,530.3 759.2,530.2 760.3,530.0 761.4,529.8 762.4,529.4 763.5,529.1 764.6,528.7 765.6,528.5 766.7,528.4 767.7,528.4 768.7,528.4 769.7,528.4 770.7,528.4 771.7,528.4 772.8,528.5 773.8,528.5 774.8,528.5 775.8,528.5 776.8,528.6 777.8,528.6 778.8,528.6 779.8,528.7 780.8,528.7 781.8,528.7 782.8,528.8 783.9,528.8 784.9,528.9 785.9,528.9 786.9,528.9 787.9,529.0 788.9,529.0 789.9,529.0 790.9,529.1 791.9,529.1 792.9,529.1 793.9,529.1 795.0,529.2 796.0,529.2 797.0,529.2 798.0,529.2 799.0,529.2 800.0,529.2 801.0,529.2 802.0,529.2 803.0,529.2 804.0,529.2 805.0,529.2 806.0,529.2 807.0,529.2 808.0,529.2 809.0,529.2 810.0,529.2 811.0,529.2 812.0,529.2 813.0,529.2 814.0,529.2 815.0,529.2 816.0,529.2 817.0,529.2 818.0,529.2 819.0,529.2 820.0,529.2 821.0,529.2 822.0,529.2 823.0,529.2 824.0,529.2 825.0,529.2 826.0,529.2 827.0,529.2 828.0,529.2 829.0,529.2 830.0,529.2 831.0,529.2 832.0,529.2 833.0,529.2 834.0,529.2 835.0,529.2 836.0,529.2 837.0,529.2 838.0,529.2 839.0,529.2 840.0,529.2 841.0,529.2 842.0,529.2 843.0,529.2 844.0,529.2 845.0,529.2 846.0,529.2 847.0,529.2 848.0,529.2 849.0,529.2 850.0,529.2 851.0,529.2 852.0,529.2 853.0,529.2 854.0,529.2 855.0,529.2 856.0,529.2 857.0,529.2 858.0,529.2 859.0,529.2 860.0,529.2 861.0,529.2 862.0,529.2 863.0,529.2 864.0,529.2 865.0,529.2 866.0,529.2 867.0,529.2 868.0,529.2 869.0,529.2 870.0,529.2 871.0,529.2 872.0,529.2 873.0,529.2 874.0,529.2 875.0,529.2 876.0,529.2 877.0,529.2 878.0,529.2 879.0,529.2 880.0,529.2 881.0,529.2 882.0,529.2 883.0,529.2 884.0,529.2 885.0,529.2 886.0,529.1 887.0,529.1 888.0,529.1 889.0,529.1 890.0,529.1 891.0,529.1 892.0,529.1 893.0,529.1 894.0,529.1 895.0,529.1 896.0,529.1 897.0,529.1 898.0,529.1 899.0,529.1 900.0,529.1 901.0,529.1 902.0,529.1 903.0,529.1 904.0,529.1 905.0,529.1 906.0,529.1 907.0,529.1 908.0,529.1 909.0,529.1 910.0,529.1 911.0,529.1 912.0,529.1 913.0,529.1 914.0,529.1 915.0,529.1 916.0,529.1 917.0,529.1 918.0,529.1 919.0,529.1 920.0,529.1 921.0,529.1 922.0,529.1 923.0,529.1 924.0,529.1 925.0,529.1 926.0,529.1 927.0,529.0 928.0,529.0 929.0,529.0 930.0,529.0 931.0,529.0 932.0,529.0 933.0,529.0 934.0,529.0 935.0,529.0 936.0,529.0 937.0,529.0 938.0,529.0 939.0,529.0 940.0,529.0 941.0,529.0 942.0,529.0 943.0,529.0 944.0,529.0 945.0,529.0 946.0,529.0 947.0,529.0 948.0,529.0 949.0,529.0 950.0,529.0 951.0,529.0 952.0,528.9 953.0,528.9 954.0,528.9 955.0,528.9 956.0,528.9 957.0,528.9 958.0,528.9 959.0,528.9 960.0,528.9 961.0,528.9 962.0,528.5 963.1,527.4 964.1,526.1 965.2,524.7 966.2,523.7 967.3,523.3 968.4,523.9 969.4,525.4 970.5,527.3 971.6,529.2 972.6,530.7 973.7,531.3 974.8,531.2 975.8,530.9 976.9,530.5 977.9,530.1 979.0,529.8 980.0,529.7 981.1,529.9 982.1,530.4 983.2,531.1 984.2,532.0 985.3,532.9 986.3,533.8 987.4,534.5 988.4,535.0 989.5,535.2 990.5,535.2 991.6,535.2 992.6,535.2 993.6,535.2 994.6,535.2 995.7,535.2 996.7,535.2 997.7,535.2 998.8,535.2 999.8,535.2 1000.8,535.2 1001.9,535.2 1002.9,535.2 1003.9,535.2 1004.9,535.2 1006.0,535.2 1007.0,535.2 1008.1,535.0 1009.3,534.4 1010.4,533.7 1011.5,532.8 1012.6,532.1 1013.8,531.5 1014.9,531.3 1016.0,531.3 1017.0,531.3 1018.1,531.3 1019.1,531.3 1020.2,531.3 1021.2,531.3 1022.3,531.3 1023.4,531.3 1024.4,531.3 1025.5,531.3 1026.5,531.3 1027.6,531.3 1028.7,531.1 1029.7,530.7 1030.8,530.1 1031.9,529.5 1032.9,529.1 1034.0,528.9 1035.0,528.9 1036.0,528.9 1037.0,528.9 1038.0,528.9 1039.0,528.9 1040.0,528.9 1041.0,528.9 1042.0,528.9 1043.0,528.9 1044.0,528.9 1045.0,528.9 1046.0,528.9 1047.0,528.9 1048.0,528.9 1049.0,528.9 1050.0,528.9 1051.0,528.9 1052.0,528.9 1053.0,528.9 1054.2,528.5 1055.4,527.7 1056.6,526.9 1057.8,526.5 1058.8,526.5 1059.8,526.5 1060.9,526.5 1061.9,526.6 1062.9,526.6 1063.9,526.6 1065.0,526.7 1066.0,526.7 1067.0,526.8 1068.0,526.8 1069.0,526.9 1070.1,526.9 1071.1,527.0 1072.1,527.0 1073.1,527.1 1074.2,527.1 1075.2,527.2 1076.2,527.2 1077.2,527.3 1078.2,527.3 1079.3,527.4 1080.3,527.4 1081.3,527.4 1082.3,527.5 1083.4,527.5 1084.4,527.5 1085.4,527.5 1086.4,527.4 1087.4,527.0 1088.5,526.4 1089.5,525.7 1090.5,525.0 1091.5,524.2 1092.5,523.5 1093.6,522.9 1094.6,522.5 1095.6,522.4 1096.6,522.4 1097.6,522.4 1098.6,522.4 1099.7,522.4 1100.7,522.4 1101.7,522.4 1102.7,522.4 1103.7,522.4 1104.7,522.4 1105.7,522.4 1106.7,522.4 1107.8,522.4 1108.8,522.4 1109.8,522.4 1110.8,522.4 1111.8,522.1 1112.8,521.5 1113.9,520.7 1114.9,520.1 1115.9,519.8 1116.9,519.8 1117.9,519.8 1118.9,519.8 1120.0,519.8 1121.0,519.8 1122.0,519.8 1123.0,519.8 1124.0,519.8 1125.0,519.8 1126.0,519.8 1127.0,519.8 1128.1,519.8 1129.1,519.8 1130.1,519.8 1131.1,519.8 1132.4,520.6 1133.6,522.2 1134.9,523.0 1135.9,523.0 1136.9,523.0 1137.9,523.0 1138.9,523.0 1140.0,523.0 1141.0,523.0 1142.0,523.0 1143.0,523.0 1144.0,523.0 1145.0,523.0 1146.0,523.0 1147.0,523.0 1148.0,523.0 1149.0,523.0 1150.1,523.0 1151.1,523.0 1152.1,523.0 1153.1,523.0 1154.1,523.0 1155.1,523.0 1156.1,523.0 1157.1,523.0 1158.1,523.0 1159.1,523.0 1160.2,523.0 1161.2,523.0 1162.2,523.0 1163.2,523.0 1164.2,523.0 1165.2,523.0 1166.2,523.0 1167.2,523.0 1168.2,523.0 1169.2,523.0 1170.3,523.0 1171.3,523.0 1172.3,523.0 1173.3,523.0 1174.3,523.0 1175.5,521.4 1176.8,519.8 1177.8,519.8 1178.8,519.8 1179.8,519.8 1180.8,519.8 1181.8,519.8 1182.8,519.8 1183.8,519.8 1184.8,519.8 1185.8,519.8 1186.8,519.8 1187.8,519.8 1188.8,519.8 1189.8,519.8 1190.8,519.8 1191.8,519.8 1192.8,519.8 1193.8,519.8 1194.8,519.8 1195.8,519.8 1196.8,519.8 1197.8,519.8 1198.8,519.8 1199.8,519.8 1200.8,519.8 1201.8,519.8 1202.8,519.8 1203.8,519.8 1204.8,519.8 1205.8,519.8 1206.8,519.8 1207.8,519.8 1208.8,519.8 1209.8,519.8 1210.8,519.8 1211.8,519.8 1212.8,519.8 1213.8,519.8 1214.8,519.8 1215.8,519.8 1216.8,519.8 1217.8,519.8 1218.8,519.8 1219.8,519.8 1220.8,519.8 1221.8,519.8 1222.8,519.8 1223.8,519.8 1224.8,519.8 1225.8,519.8 1226.8,519.8 1227.8,519.8 1228.8,519.8 1229.8,519.8 1230.8,519.8 1231.8,519.8 1232.8,519.8 1233.8,519.8 1234.8,519.8 1235.8,519.8 1236.8,519.8 1237.8,519.8 1238.8,519.8 1239.8,519.8 1240.8,519.8 1241.8,519.8 1242.8,519.8 1243.8,519.8 1244.8,519.8 1245.8,519.8 1246.8,519.8 1247.8,519.8 1248.8,519.8 1249.8,519.8 1250.8,519.8 1251.8,519.8 1252.8,519.8 1253.8,519.8 1254.8,519.8 1255.8,519.8 1256.8,519.8 1257.9,520.2 1258.9,521.2 1260.0,522.7 1261.1,524.5 1262.1,526.4 1263.2,528.1 1264.2,529.8 1265.3,531.6 1266.3,533.5 1267.4,535.5 1268.5,537.5 1269.5,539.5 1270.6,541.8 1271.6,544.6 1272.7,547.4 1273.8,549.8 1274.8,551.5 1275.9,552.2 1277.0,551.4 1278.0,549.5 1279.1,546.7 1280.1,543.6 1281.2,540.7 1282.2,538.3 1283.4,535.9 1284.6,533.5 1285.7,531.6 1286.9,530.8 1288.0,531.0 1289.2,531.4 1290.3,532.1 1291.5,533.1 1292.6,534.3 1293.7,539.5 1294.8,549.2 1296.0,558.6 1297.1,562.8 1298.2,558.4 1299.4,548.7 1300.5,538.6 1301.7,533.1 1302.7,531.9 1303.7,530.8 1304.7,529.9 1305.7,529.2 1306.8,528.5 1307.8,528.0 1308.8,527.7 1309.8,527.5 1310.8,527.4 1311.9,531.3 1313.1,540.0 1314.2,559.5 1315.4,580.0 1316.5,588.9 1317.7,595.3 1318.8,602.8 1320.0,615.5 1321.1,631.4 1322.2,645.0 1323.4,650.8 1324.6,648.8 1325.7,643.3 1326.8,635.3 1328.0,625.6 1329.2,607.2 1330.3,585.7 1331.4,569.1 1332.5,559.4 1333.7,557.9 1334.8,556.8 1335.9,556.2 1337.1,556.0 1338.2,559.4 1339.4,566.9 1340.5,574.3 1341.7,577.7 1342.8,574.1 1344.0,566.0 1345.1,557.8 1346.2,553.7 1347.3,553.2 1348.5,552.8 1349.7,552.6 1350.8,552.5 1352.0,552.5 1353.1,552.7 1354.2,552.9 1355.4,553.3 1356.5,553.9 1357.7,554.8 1358.8,574.2 1359.9,573.3 1361.1,571.0 1362.2,568.3 1363.4,566.0 1364.5,565.1 1365.7,565.4 1366.8,566.1 1367.9,567.2 1369.1,568.5 1370.2,571.2 1371.4,575.9 1372.5,581.5 1373.6,586.9 1374.8,590.9 1375.9,592.5 1377.1,592.4 1378.2,592.2 1379.3,591.9 1380.5,591.4 1381.7,588.6 1382.8,582.8 1383.9,576.8 1385.1,573.1 1386.2,571.5 1387.4,570.2 1388.5,569.0 1389.6,568.1 1390.8,567.6 1391.9,567.4 1392.9,567.4 1393.9,567.4 1394.9,567.5 1395.9,567.6 1396.9,567.8 1397.9,568.0 1398.9,568.2 1399.9,568.5 1401.1,575.2 1402.2,586.8 1403.3,600.1 1404.5,614.4 1405.6,621.1 1406.8,619.5 1407.9,615.4 1409.0,609.5 1410.2,602.8 1411.3,590.9 1412.5,580.0 1413.7,575.6 1414.8,572.3 1415.9,569.9 1417.1,568.5 1418.2,567.8 1419.3,567.3 1420.5,566.9 1421.6,566.2 1422.8,564.1 1423.9,560.6 1425.0,557.4 1426.2,556.0 1427.3,557.7 1428.5,562.2 1429.6,568.5 1430.8,584.7 1431.9,602.8 1432.9,612.5 1434.0,621.5 1435.0,628.9 1436.1,634.0 1437.1,635.9 1438.1,634.6 1439.1,631.3 1440.2,626.4 1441.2,620.5 1442.2,614.2 1443.3,603.6 1444.5,590.0 1445.6,580.0 1446.8,574.1 1447.9,569.0 1449.0,565.4 1450.2,564.0 1451.3,564.1 1452.5,564.3 1453.6,564.8 1454.8,565.4 1455.9,566.2 1457.1,570.4 1458.2,574.2 1460.0,573.1 1461.1,574.1 1462.3,576.7 1463.4,580.0 1464.6,586.9 1465.7,596.0 1466.9,600.5 1468.0,598.9 1469.2,594.9 1470.3,589.6 1471.4,584.4 1472.6,580.4 1473.7,578.8 1474.8,580.4 1475.8,584.4 1476.8,589.6 1477.9,594.9 1479.0,598.9 1480.0,600.5 1481.0,598.7 1482.0,594.3 1483.1,588.8 1484.1,583.5 1485.1,580.0 1486.2,577.6 1487.4,575.5 1488.5,573.7 1489.7,572.4 1490.8,572.0 1491.8,572.2 1492.8,572.7 1493.8,573.5 1494.8,574.6 1495.8,575.8 1496.8,577.1 1497.8,578.6 1498.8,580.0 1500.0,581.9 1501.1,584.2 1502.2,586.9 1503.4,589.9 1504.5,593.4 1505.7,597.1 1506.8,600.6 1508.0,604.4 1509.2,610.3 1510.3,619.9 1511.4,663.3 1512.6,661.4 1513.7,656.4 1514.8,649.8 1516.0,642.8 1517.2,632.0 1518.3,624.5 1519.3,624.5 1520.3,624.6 1521.4,624.7 1522.4,624.8 1523.4,625.0 1524.4,625.3 1525.4,625.6 1526.5,625.9 1527.5,626.3 1528.5,626.8 1529.7,628.4 1530.8,631.9 1531.9,636.9 1533.1,642.8 1534.2,655.8 1535.4,665.6 1536.6,663.8 1537.7,659.3 1538.8,653.7 1540.0,648.5 1541.1,644.0 1542.3,639.3 1543.4,634.6 1544.6,630.0 1545.7,625.6 1546.8,621.0 1548.0,616.0 1549.1,611.1 1550.2,606.9 1551.4,603.9 1552.5,602.8 1553.7,603.6 1554.8,605.6 1555.9,608.6 1557.1,611.9 1558.2,618.5 1559.4,623.4 1560.5,622.6 1561.7,620.4 1562.8,617.5 1563.9,614.2 1565.1,609.5 1566.2,603.1 1567.3,596.6 1568.5,591.4 1569.6,587.6 1570.8,584.1 1571.9,581.1 1573.1,578.5 1574.2,576.5 1575.2,575.0 1576.2,573.5 1577.3,572.1 1578.3,570.8 1579.3,569.7 1580.3,568.7 1581.4,568.0 1582.4,567.6 1583.4,567.4 1584.5,568.0 1585.7,569.5 1586.8,571.4 1587.9,573.3 1589.1,574.8 1590.2,575.4 1591.3,573.8 1592.5,570.0 1593.7,565.5 1594.8,561.7 1595.9,558.5 1597.0,555.2 1598.2,552.6 1599.3,551.4 1600.3,551.2 1601.3,551.0 1602.4,550.9 1603.4,550.8 1604.4,550.8 1605.4,550.7 1606.5,550.6 1607.5,550.5 1608.5,550.3 1609.5,549.7 1610.6,548.6 1611.6,547.0 1612.6,545.1 1613.7,543.1 1614.7,540.9 1615.8,538.9 1616.8,537.1 1617.8,535.6 1618.9,534.7 1619.9,534.3 1621.0,534.3 1622.2,534.5 1623.3,534.7 1624.5,535.0 1625.6,535.4 1626.8,537.4 1627.9,541.3 1629.0,545.1 1630.2,546.8 1631.3,545.4 1632.5,541.9 1633.6,537.6 1634.8,533.9 1635.9,532.0 1636.9,531.6 1638.0,531.4 1639.0,531.1 1640.0,530.8 1641.0,530.1 1642.1,529.0 1643.1,527.7 1644.2,526.4 1645.2,525.2 1646.3,524.3 1647.3,524.0 1648.4,524.6 1649.5,525.5 1650.6,526.2 1651.6,527.0 1652.7,527.8 1653.7,528.5 1654.8,529.1 1655.8,529.5 1656.9,529.7 1658.0,529.4 1659.0,528.5 1660.1,527.2 1661.2,525.7 1662.2,524.2 1663.3,522.7 1664.4,521.4 1665.4,520.5 1666.5,520.2 1667.5,520.3 1668.6,520.6 1669.6,521.0 1670.7,521.6 1671.7,522.3 1672.8,524.2 1673.8,527.7 1674.9,531.6 1675.9,534.8 1677.0,536.1 1678.1,534.8 1679.1,531.6 1680.2,527.9 1681.2,524.7 1682.3,523.4 1683.4,523.5 1684.4,523.6 1685.5,523.9 1686.5,524.1 1687.6,524.5 1688.7,524.8 1689.7,525.0 1690.8,525.3 1691.8,525.4 1692.9,525.5 1694.0,525.0 1695.0,523.9 1696.1,522.4 1697.2,520.8 1698.2,519.7 1699.3,519.2 1700.3,519.2 1701.4,519.2 1702.5,519.2 1703.5,519.2 1704.5,519.2 1705.6,519.2 1706.7,519.2 1707.7,519.2 1708.8,518.6 1709.8,517.3 1710.9,515.5 1712.0,513.6 1713.0,512.3 1714.1,511.7 1715.2,511.7 1716.2,511.7 1717.3,511.7 1718.3,511.7 1719.4,511.7 1720.5,511.7 1721.5,511.7 1722.6,511.7 1723.6,511.7 1724.7,511.7 1725.8,513.2 1726.8,516.5 1727.9,519.8 1728.9,521.3 1730.0,521.3 1731.0,521.3 1732.1,521.3 1733.1,521.3 1734.2,521.3 1735.2,521.3 1736.3,525.8 1737.3,535.5 1738.4,545.3 1739.5,549.8 1740.5,546.5 1741.6,539.2 1742.7,532.0 1743.7,528.7 1744.8,528.8 1745.8,529.1 1746.9,529.6 1748.0,530.3 1749.0,531.1 1750.1,532.0 1751.1,533.0 1752.2,534.0 1753.2,535.7 1754.3,538.2 1755.3,541.1 1756.4,543.9 1757.5,545.9 1758.5,546.7 1759.6,545.9 1760.6,544.1 1761.7,541.9 1762.7,540.1 1763.8,539.3 1764.9,540.9 1765.9,545.1 1767.0,550.4 1768.1,555.7 1769.1,559.9 1770.2,561.5 1771.2,560.2 1772.3,557.0 1773.3,552.5 1774.4,547.8 1775.4,543.5 1776.5,539.0 1777.6,534.0 1778.6,529.8 1779.7,527.6 1780.8,526.9 1781.8,526.4 1782.8,526.0 1783.9,525.8 1785.0,525.5 1786.0,525.2 1787.0,524.9 1788.1,524.4 1789.2,523.7 1790.2,522.6 1791.3,521.4 1792.3,520.1 1793.4,518.9 1794.5,517.9 1795.5,517.3 1796.6,517.0 1797.7,517.0 1798.7,517.0 1799.8,517.0 1800.8,517.0 1801.9,517.0 1803.0,516.7 1804.0,516.0 1805.1,515.0 1806.1,513.7 1807.2,512.4 1808.2,510.9 1809.3,509.6 1810.4,508.1 1811.4,506.2 1812.5,504.1 1813.5,502.0 1814.6,500.0 1815.7,498.4 1816.7,497.3 1817.8,496.9 1818.8,496.9 1819.9,496.9 1820.9,496.9 1822.0,496.9 1823.0,496.9"/>
<polyline stroke="#ff8400" points="220.0,768.3 221.1,768.4 222.1,768.5 223.2,768.6 224.2,768.7 225.3,768.8 226.4,768.9 227.4,769.0 228.5,769.1 229.5,769.2 230.6,769.3 231.7,769.4 232.7,769.5 233.8,769.6 234.8,769.7 235.9,769.8 236.9,769.9 237.9,770.0 239.0,770.1 240.0,770.2 241.0,770.2 242.0,770.3 243.1,770.4 244.1,770.5 245.1,770.6 246.1,770.7 247.1,770.8 248.2,770.8 249.2,770.9 250.2,771.0 251.2,771.1 252.3,771.2 253.3,771.3 254.3,771.3 255.3,771.4 256.4,771.5 257.4,771.6 258.4,771.6 259.4,771.7 260.4,771.8 261.5,771.8 262.5,771.9 263.5,772.0 264.5,772.0 265.6,772.1 266.6,772.1 267.6,772.2 268.6,772.3 269.7,772.3 270.7,772.4 271.7,772.4 272.8,772.5 273.8,772.5 274.8,772.6 275.9,772.6 276.9,772.7 278.0,772.7 279.0,772.8 280.0,772.8 281.1,772.9 282.1,772.9 283.1,772.9 284.2,772.9 285.2,773.0 286.2,773.0 287.3,773.0 288.3,773.0 289.3,773.0 290.4,773.0 291.4,773.0 292.4,772.9 293.5,772.9 294.5,772.8 295.5,772.8 296.6,772.7 297.6,772.6 298.6,772.6 299.7,772.5 300.7,772.4 301.8,772.3 302.8,772.2 303.8,772.2 304.9,772.1 305.9,772.0 306.9,771.9 308.0,771.8 309.0,771.7 310.0,771.7 311.1,771.6 312.1,771.5 313.1,771.5 314.2,771.4 315.2,771.4 316.2,771.4 317.3,771.3 318.3,771.3 319.3,771.3 320.3,771.2 321.4,771.2 322.4,771.1 323.4,771.1 324.4,771.1 325.5,771.0 326.5,771.0 327.5,771.0 328.5,770.9 329.6,770.9 330.6,770.9 331.6,770.8 332.6,770.8 333.7,770.8 334.7,770.8 335.7,770.7 336.7,770.7 337.8,770.7 338.8,770.7 339.8,770.7 340.8,770.6 341.9,770.6 342.9,770.6 343.9,770.6 344.9,770.6 346.0,770.6 347.0,770.6 348.0,770.6 349.1,770.6 350.1,770.6 351.1,770.6 352.1,770.6 353.2,770.6 354.2,770.6 355.2,770.6 356.3,770.6 357.3,770.6 358.3,770.6 359.4,770.6 360.4,770.6 361.4,770.6 362.5,770.6 363.5,770.6 364.5,770.6 365.5,770.6 366.6,770.6 367.6,770.6 368.6,770.7 369.6,770.9 370.6,771.2 371.6,771.6 372.6,772.1 373.7,772.6 374.7,773.2 375.7,773.8 376.7,774.3 377.7,774.9 378.7,775.4 379.8,775.9 380.8,776.4 381.9,776.9 382.9,777.4 384.0,778.0 385.1,778.5 386.1,779.0 387.2,779.6 388.2,780.2 389.3,780.8 390.4,781.4 391.4,782.0 392.5,782.7 393.5,783.4 394.6,784.1 395.7,784.9 396.7,785.7 397.8,786.6 398.8,787.6 399.9,788.6 401.0,789.6 402.0,790.7 403.1,791.8 404.1,792.9 405.2,794.0 406.3,795.1 407.3,796.1 408.4,797.2 409.4,798.2 410.5,799.2 411.6,800.1 412.6,801.0 413.7,801.8 414.7,802.6 415.8,803.4 416.9,804.3 417.9,805.1 419.0,806.0 420.0,806.9 421.1,808.0 422.1,809.1 423.2,810.3 424.4,811.9 425.5,813.9 426.7,816.1 427.9,818.3 429.0,820.5 430.0,823.1 431.1,825.7 432.2,828.3 433.2,830.6 434.3,832.5 435.3,834.0 436.3,835.4 437.3,836.7 438.3,837.9 439.3,839.1 440.4,840.2 441.4,841.2 442.4,842.2 443.4,843.2 444.4,844.2 445.4,845.2 446.5,846.2 447.5,847.2 448.6,848.0 449.6,848.9 450.7,849.7 451.8,850.5 452.8,851.4 453.9,852.2 454.9,853.2 456.0,854.1 457.0,855.2 458.1,856.3 459.2,857.6 460.2,859.0 461.3,860.6 462.3,862.3 463.4,864.1 464.4,865.8 465.5,867.5 466.5,869.1 467.6,870.6 468.6,872.0 469.6,873.6 470.6,875.2 471.6,876.7 472.6,878.1 473.6,879.2 474.6,879.9 475.6,880.2 476.6,880.2 477.6,880.2 478.6,880.2 479.6,880.2 480.6,880.2 481.7,880.2 482.7,880.2 483.7,880.2 484.7,880.2 485.7,880.2 486.7,880.2 487.8,880.6 488.8,881.6 489.9,883.1 490.9,885.0 492.0,887.1 493.0,889.2 494.1,891.2 495.1,893.0 496.2,894.4 497.3,895.5 498.3,896.6 499.4,897.7 500.4,898.7 501.5,899.6 502.5,900.4 503.6,901.2 504.6,901.8 505.7,902.4 506.7,902.9 507.7,903.3 508.8,903.7 509.8,904.0 510.8,904.3 511.8,904.6 512.8,904.9 513.9,905.2 514.9,905.4 515.9,905.7 517.0,906.0 518.0,906.3 519.1,906.5 520.1,906.8 521.2,907.1 522.2,907.4 523.3,907.7 524.3,907.9 525.4,908.2 526.4,908.4 527.5,908.5 528.5,908.7 529.6,908.8 530.6,908.9 531.7,908.9 532.7,908.9 533.8,908.9 534.8,908.9 535.8,908.9 536.9,908.9 537.9,908.9 538.9,908.9 540.0,908.9 541.0,908.9 542.0,908.9 543.1,908.9 544.1,908.9 545.2,908.9 546.2,908.9 547.2,908.9 548.3,908.9 549.3,908.9 550.3,908.9 551.4,908.9 552.4,908.9 553.4,908.9 554.5,908.8 555.5,908.8 556.5,908.7 557.6,908.6 558.6,908.4 559.6,908.3 560.7,908.1 561.7,907.9 562.7,907.7 563.8,907.5 564.8,907.2 565.9,907.0 566.9,906.7 567.9,906.4 569.0,906.2 570.0,905.9 571.0,905.6 572.1,905.3 573.1,905.0 574.1,904.7 575.2,904.4 576.2,904.1 577.2,903.8 578.2,903.5 579.2,903.1 580.2,902.8 581.2,902.4 582.2,901.9 583.2,901.5 584.2,901.1 585.2,900.6 586.2,900.1 587.2,899.6 588.2,899.1 589.2,898.6 590.2,898.1 591.2,897.5 592.2,897.0 593.2,896.5 594.2,895.9 595.2,895.4 596.3,894.8 597.3,894.2 598.4,893.6 599.4,892.9 600.5,892.3 601.6,891.6 602.6,890.9 603.7,890.2 604.7,889.4 605.8,888.7 606.9,888.0 607.9,887.3 609.0,886.5 610.0,885.8 611.1,885.1 612.1,884.4 613.1,883.7 614.1,883.0 615.1,882.3 616.1,881.5 617.1,880.8 618.1,880.0 619.1,879.3 620.1,878.5 621.2,877.8 622.2,877.0 623.2,876.3 624.2,875.6 625.2,874.8 626.2,874.2 627.2,873.5 628.2,872.8 629.2,872.2 630.2,871.6 631.3,871.0 632.3,870.4 633.4,869.9 634.4,869.4 635.5,868.9 636.5,868.4 637.6,868.0 638.6,867.5 639.7,867.0 640.7,866.5 641.8,866.0 642.8,865.5 643.9,864.9 644.9,864.3 646.0,863.7 647.1,863.0 648.1,862.2 649.2,861.4 650.2,860.5 651.3,859.6 652.4,858.6 653.4,857.6 654.5,856.6 655.5,855.7 656.6,854.8 657.7,853.9 658.7,853.0 659.8,852.3 660.8,851.6 661.9,851.0 663.0,850.5 664.0,849.9 665.1,849.3 666.1,848.8 667.2,848.3 668.2,847.8 669.3,847.4 670.4,847.0 671.4,846.6 672.5,846.4 673.5,846.3 674.6,846.2 675.7,846.3 676.7,846.4 677.8,846.7 678.9,847.0 679.9,847.4 681.0,847.8 682.1,848.5 683.3,849.5 684.4,850.7 685.5,851.9 686.6,853.0 687.8,853.8 688.9,854.1 690.0,853.9 691.0,853.2 692.1,852.2 693.1,851.0 694.2,849.6 695.2,848.2 696.3,846.7 697.4,845.3 698.4,844.1 699.5,843.1 700.5,842.4 701.6,842.2 702.7,842.4 703.9,843.0 705.0,843.8 706.1,844.6 707.2,845.4 708.4,846.0 709.5,846.2 710.5,845.9 711.5,845.2 712.5,844.2 713.5,843.0 714.5,841.8 715.5,840.8 716.5,840.1 717.5,839.8 718.6,839.8 719.8,840.0 720.9,840.1 722.0,840.3 723.1,840.4 724.3,840.6 725.4,840.6 726.5,840.2 727.5,839.3 728.5,838.1 729.6,836.7 730.7,835.3 731.7,834.3 732.8,833.5 733.8,832.6 734.9,831.8 735.9,831.0 737.0,830.2 738.1,829.5 739.1,828.7 740.2,828.0 741.2,827.4 742.3,826.8 743.4,826.3 744.4,825.8 745.5,825.4 746.5,825.0 747.6,824.8 748.6,824.6 749.6,824.5 750.6,824.3 751.6,824.2 752.6,824.1 753.7,823.9 754.7,823.8 755.7,823.8 756.7,823.7 757.7,823.6 758.7,823.5 759.7,823.4 760.7,823.4 761.7,823.3 762.7,823.2 763.7,823.1 764.8,823.0 765.8,822.9 766.8,822.8 767.8,822.7 768.8,822.6 769.8,822.4 770.8,822.2 771.8,822.0 772.9,821.8 773.9,821.5 774.9,821.2 775.9,820.9 776.9,820.6 778.0,820.3 779.0,820.1 780.0,819.8 781.1,819.5 782.1,819.2 783.2,818.9 784.2,818.6 785.3,818.2 786.4,817.9 787.4,817.6 788.5,817.3 789.5,817.0 790.6,816.7 791.7,816.5 792.7,816.3 793.8,816.1 794.8,816.0 795.9,815.9 796.9,815.9 797.9,815.8 798.9,815.8 800.0,815.8 801.0,815.7 802.0,815.7 803.0,815.7 804.0,815.7 805.0,815.6 806.0,815.6 807.0,815.6 808.1,815.6 809.1,815.6 810.1,815.6 811.1,815.6 812.1,815.5 813.1,815.5 814.1,815.5 815.1,815.5 816.2,815.5 817.2,815.5 818.2,815.5 819.2,815.5 820.2,815.5 821.2,815.5 822.2,815.4 823.2,815.4 824.3,815.4 825.3,815.4 826.3,815.4 827.3,815.4 828.3,815.4 829.3,815.4 830.3,815.4 831.3,815.4 832.4,815.3 833.4,815.3 834.4,815.3 835.4,815.3 836.4,815.3 837.4,815.3 838.4,815.2 839.4,815.2 840.5,815.2 841.5,815.2 842.5,815.1 843.5,815.1 844.5,815.1 845.5,815.0 846.5,814.9 847.5,814.8 848.5,814.6 849.6,814.4 850.6,814.2 851.6,814.0 852.6,813.8 853.6,813.6 854.6,813.3 855.6,813.0 856.6,812.7 857.6,812.4 858.6,812.1 859.6,811.8 860.7,811.5 861.7,811.1 862.7,810.8 863.7,810.5 864.7,810.1 865.7,809.8 866.7,809.4 867.7,809.1 868.7,808.8 869.7,808.4 870.7,808.1 871.8,807.8 872.8,807.5 873.8,807.2 874.8,806.9 875.8,806.6 876.8,806.3 877.8,806.1 878.8,805.9 879.8,805.7 880.8,805.5 881.8,805.3 882.9,805.2 883.9,805.0 884.9,804.9 885.9,804.9 886.9,804.8 887.9,804.8 888.9,804.8 889.9,804.8 890.9,804.9 891.9,804.9 892.9,804.9 893.9,805.0 894.9,805.0 895.9,805.1 896.9,805.2 898.0,805.2 899.0,805.3 900.0,805.4 901.0,805.4 902.0,805.5 903.0,805.5 904.0,805.5 905.0,805.6 906.0,805.6 907.0,805.6 908.1,805.5 909.1,805.4 910.2,805.1 911.2,804.8 912.3,804.3 913.4,803.9 914.4,803.3 915.5,802.8 916.5,802.2 917.6,801.7 918.7,801.1 919.7,800.6 920.8,800.1 921.8,799.6 922.9,799.2 923.9,798.9 924.9,798.5 925.9,798.2 927.0,798.0 928.0,797.7 929.0,797.4 930.0,797.2 931.0,796.9 932.0,796.7 933.1,796.5 934.1,796.2 935.1,796.0 936.1,795.8 937.1,795.6 938.1,795.4 939.1,795.2 940.2,795.0 941.2,794.8 942.2,794.6 943.2,794.4 944.2,794.2 945.2,793.9 946.3,793.7 947.3,793.5 948.3,793.2 949.3,793.0 950.3,792.7 951.3,792.4 952.3,792.1 953.4,791.8 954.4,791.5 955.4,791.1 956.4,790.7 957.4,790.4 958.4,790.0 959.5,789.5 960.5,789.1 961.5,788.6 962.5,788.1 963.6,787.3 964.6,786.0 965.7,784.5 966.8,783.1 967.8,782.1 968.9,781.7 970.1,783.6 971.3,787.7 972.5,791.8 973.7,793.7 974.8,792.9 975.8,790.8 976.9,788.1 977.9,785.4 979.0,783.3 980.0,782.5 981.1,782.8 982.1,783.7 983.2,785.0 984.2,786.5 985.3,788.1 986.3,789.6 987.4,790.9 988.4,791.8 989.5,792.1 990.5,792.1 991.5,791.9 992.5,791.7 993.6,791.4 994.6,791.1 995.6,790.7 996.6,790.3 997.6,789.8 998.6,789.3 999.7,788.7 1000.7,788.2 1001.7,787.6 1002.7,787.0 1003.7,786.4 1004.7,785.9 1005.8,785.3 1006.8,784.8 1007.8,784.3 1008.8,783.9 1009.8,783.5 1010.8,783.2 1011.9,782.9 1012.9,782.7 1013.9,782.5 1014.9,782.5 1015.9,782.6 1016.9,783.0 1017.9,783.5 1018.9,784.1 1019.9,784.7 1020.9,785.2 1021.9,785.6 1022.9,785.7 1023.9,785.7 1024.9,785.5 1025.9,785.3 1026.9,785.1 1027.9,784.8 1028.9,784.4 1029.9,784.0 1030.9,783.6 1031.9,783.2 1032.9,782.7 1033.9,782.3 1034.9,781.9 1035.9,781.5 1036.9,781.1 1037.9,780.8 1038.9,780.6 1039.9,780.4 1040.9,780.2 1041.9,780.2 1042.9,780.2 1043.9,780.2 1044.9,780.3 1045.9,780.3 1046.9,780.4 1047.9,780.5 1048.9,780.6 1049.9,780.7 1051.0,780.8 1052.0,780.8 1053.0,780.9 1054.0,781.0 1055.0,781.1 1056.0,781.2 1057.0,781.2 1058.0,781.3 1059.0,781.3 1060.0,781.3 1061.1,781.3 1062.1,781.2 1063.2,781.1 1064.2,781.0 1065.3,780.8 1066.3,780.6 1067.4,780.4 1068.5,780.2 1069.5,780.0 1070.6,779.8 1071.6,779.6 1072.7,779.4 1073.7,779.2 1074.7,779.0 1075.7,778.8 1076.8,778.6 1077.8,778.3 1078.8,778.1 1079.8,777.8 1080.8,777.6 1081.8,777.3 1082.8,777.1 1083.8,776.9 1084.9,776.7 1085.9,776.5 1086.9,776.3 1087.9,776.2 1088.9,776.1 1090.0,776.0 1091.0,775.8 1092.1,775.7 1093.1,775.6 1094.1,775.5 1095.2,775.4 1096.2,775.3 1097.3,775.3 1098.3,775.2 1099.3,775.1 1100.4,775.0 1101.4,774.9 1102.5,774.9 1103.5,774.8 1104.6,774.7 1105.6,774.6 1106.6,774.6 1107.7,774.5 1108.7,774.4 1109.8,774.4 1110.8,774.3 1111.8,774.2 1112.8,774.2 1113.8,774.1 1114.9,774.0 1115.9,773.9 1116.9,773.9 1117.9,773.8 1118.9,773.7 1119.9,773.7 1120.9,773.6 1122.0,773.5 1123.0,773.4 1124.0,773.4 1125.0,773.3 1126.0,773.2 1127.0,773.2 1128.0,773.1 1129.1,773.0 1130.1,773.0 1131.1,772.9 1132.1,772.8 1133.1,772.8 1134.1,772.7 1135.1,772.7 1136.2,772.6 1137.2,772.6 1138.2,772.6 1139.2,772.5 1140.2,772.5 1141.2,772.5 1142.2,772.4 1143.3,772.4 1144.3,772.4 1145.3,772.4 1146.3,772.4 1147.3,772.4 1148.3,772.4 1149.4,772.4 1150.4,772.4 1151.4,772.4 1152.4,772.4 1153.4,772.4 1154.4,772.4 1155.5,772.4 1156.5,772.4 1157.5,772.4 1158.5,772.4 1159.5,772.4 1160.5,772.4 1161.6,772.4 1162.6,772.4 1163.6,772.4 1164.6,772.4 1165.6,772.4 1166.7,772.4 1167.7,772.4 1168.7,772.4 1169.7,772.4 1170.7,772.4 1171.7,772.4 1172.8,772.4 1173.8,772.4 1174.8,772.4 1175.8,772.4 1176.8,772.4 1177.8,772.4 1178.9,772.4 1179.9,772.4 1180.9,772.4 1181.9,772.4 1182.9,772.4 1183.9,772.4 1185.0,772.4 1186.0,772.4 1187.0,772.4 1188.3,771.7 1189.5,770.5 1190.8,769.8 1191.8,769.8 1192.9,769.8 1193.9,769.8 1194.9,769.8 1195.9,769.8 1197.0,769.8 1198.0,769.8 1199.0,769.8 1200.1,769.8 1201.1,769.8 1202.1,769.8 1203.1,769.8 1204.2,769.8 1205.2,769.8 1206.2,769.8 1207.3,769.8 1208.3,769.8 1209.3,769.8 1210.3,769.8 1211.4,769.8 1212.4,769.8 1213.5,769.8 1214.5,769.9 1215.6,770.0 1216.6,770.2 1217.7,770.4 1218.8,770.7 1219.8,770.9 1220.9,771.2 1221.9,771.5 1223.0,771.8 1224.0,772.1 1225.1,772.4 1226.1,772.7 1227.1,773.0 1228.1,773.4 1229.1,773.8 1230.1,774.2 1231.1,774.7 1232.1,775.2 1233.1,775.7 1234.1,776.2 1235.1,776.8 1236.1,777.3 1237.1,777.9 1238.1,778.4 1239.1,779.0 1240.1,779.6 1241.1,780.2 1242.1,780.8 1243.1,781.3 1244.1,781.9 1245.1,782.5 1246.1,783.0 1247.1,783.6 1248.1,784.1 1249.1,784.7 1250.1,785.2 1251.1,785.8 1252.1,786.4 1253.1,787.1 1254.1,787.7 1255.1,788.4 1256.1,789.2 1257.1,790.0 1258.1,790.8 1259.1,791.8 1260.1,793.1 1261.2,794.5 1262.2,796.0 1263.2,797.6 1264.2,799.1 1265.2,800.5 1266.3,801.8 1267.3,802.8 1268.3,803.5 1269.4,804.0 1270.5,804.6 1271.6,805.0 1272.6,805.4 1273.7,805.7 1274.8,805.9 1275.9,806.0 1277.0,805.9 1278.0,805.7 1279.1,805.4 1280.1,805.1 1281.2,804.9 1282.2,804.8 1283.2,805.3 1284.2,806.7 1285.3,808.7 1286.3,811.2 1287.3,813.7 1288.6,817.8 1289.8,823.2 1291.1,828.9 1292.4,834.6 1293.6,840.7 1294.9,847.9 1296.2,857.8 1297.5,869.6 1298.8,880.8 1299.9,889.5 1301.0,898.1 1302.2,906.4 1303.3,914.3 1304.4,921.5 1305.5,927.8 1306.6,934.0 1307.8,940.4 1308.9,946.4 1310.0,951.4 1311.2,954.8 1312.3,956.1 1313.4,954.7 1314.4,951.1 1315.5,946.0 1316.5,940.3 1317.6,934.6 1318.7,928.2 1319.9,920.8 1321.0,912.7 1322.1,904.2 1323.3,895.7 1324.4,887.5 1325.5,879.3 1326.6,870.7 1327.8,862.0 1328.9,853.8 1330.0,846.5 1331.1,840.5 1332.2,835.6 1333.3,831.0 1334.3,827.0 1335.4,823.8 1336.5,821.7 1337.6,820.3 1338.7,819.0 1339.8,817.9 1341.0,817.0 1342.1,816.5 1343.2,816.3 1344.3,816.9 1345.3,818.6 1346.4,821.0 1347.4,823.9 1348.5,827.0 1349.6,831.1 1350.7,836.7 1351.7,843.0 1352.8,849.0 1353.9,853.9 1355.0,857.8 1356.1,861.2 1357.2,864.4 1358.4,867.4 1359.5,870.6 1360.6,874.1 1361.7,878.6 1362.9,884.1 1364.0,889.7 1365.1,894.7 1366.3,898.2 1367.4,899.6 1368.5,898.0 1369.6,893.8 1370.8,888.1 1371.9,882.3 1373.0,877.2 1374.1,874.1 1375.2,872.6 1376.3,871.4 1377.3,870.4 1378.4,869.6 1379.5,868.7 1380.5,867.9 1381.5,867.3 1382.5,866.7 1383.5,866.1 1384.5,865.5 1385.5,864.9 1386.5,864.1 1387.5,863.3 1388.5,862.1 1389.6,860.5 1390.6,858.6 1391.7,856.5 1392.7,854.6 1393.8,852.7 1394.8,851.3 1395.9,850.3 1396.9,849.9 1398.0,850.5 1399.2,852.0 1400.3,854.0 1401.4,856.2 1402.6,858.1 1403.7,859.3 1404.7,860.0 1405.8,860.7 1406.8,861.3 1407.9,861.8 1408.9,862.3 1410.0,862.7 1411.0,863.0 1412.1,863.2 1413.1,863.3 1414.1,863.1 1415.2,862.6 1416.2,861.9 1417.3,860.9 1418.3,859.8 1419.4,858.5 1420.4,857.2 1421.5,856.0 1422.5,854.7 1423.6,853.6 1424.6,852.6 1425.7,851.9 1426.8,851.4 1427.8,851.2 1428.9,851.4 1429.9,851.9 1431.0,852.6 1432.0,853.5 1433.1,854.3 1434.1,855.2 1435.2,855.9 1436.2,856.4 1437.3,856.6 1438.3,856.3 1439.3,855.3 1440.3,854.0 1441.3,852.5 1442.3,851.1 1443.3,849.8 1444.3,848.8 1445.3,848.5 1446.4,849.2 1447.5,851.1 1448.7,853.6 1449.8,856.4 1450.9,858.8 1452.0,860.6 1453.1,861.7 1454.3,862.7 1455.4,863.5 1456.5,864.3 1457.7,865.1 1458.8,866.0 1459.8,866.9 1460.9,867.8 1461.9,868.8 1462.9,869.8 1464.0,870.7 1465.0,871.6 1466.1,872.4 1467.1,873.0 1468.1,873.6 1469.1,874.1 1470.1,874.7 1471.1,875.2 1472.1,875.5 1473.1,875.8 1474.1,875.9 1475.2,875.3 1476.3,873.7 1477.4,871.2 1478.5,868.2 1479.6,864.7 1480.7,861.2 1481.8,857.7 1482.9,854.5 1484.0,851.9 1485.0,849.7 1486.0,847.4 1487.0,845.0 1488.0,842.6 1489.0,840.2 1490.0,837.8 1491.0,835.5 1492.1,833.4 1493.1,831.5 1494.1,829.8 1495.1,828.4 1496.1,827.4 1497.1,826.7 1498.1,826.5 1499.2,826.7 1500.3,827.1 1501.4,827.8 1502.5,828.8 1503.6,830.1 1504.7,831.6 1505.8,833.4 1506.9,835.5 1508.0,837.7 1509.4,845.6 1510.8,853.3 1511.8,854.6 1512.9,855.2 1514.0,855.9 1515.0,857.5 1516.5,890.0 1517.9,914.3 1519.3,932.3 1520.4,942.3 1521.5,951.6 1522.7,959.1 1523.8,964.3 1524.9,966.2 1526.0,965.5 1527.2,963.6 1528.3,960.8 1529.5,957.3 1530.6,953.5 1531.7,948.4 1532.8,941.0 1534.0,932.0 1535.1,921.9 1536.2,911.1 1537.6,892.7 1539.0,875.9 1540.1,867.9 1541.3,861.1 1542.4,855.4 1543.6,850.9 1544.7,847.6 1545.8,845.1 1546.8,842.8 1547.9,840.6 1549.0,838.7 1550.0,837.1 1551.1,835.9 1552.1,835.2 1553.2,834.9 1554.2,835.3 1555.2,836.3 1556.2,837.7 1557.2,839.2 1558.2,840.6 1559.2,841.6 1560.2,842.0 1561.2,841.8 1562.2,841.4 1563.2,840.9 1564.3,840.3 1565.3,839.8 1566.3,839.4 1567.3,839.2 1568.3,840.1 1569.3,842.3 1570.3,845.3 1571.3,848.6 1572.3,851.6 1573.3,853.8 1574.3,854.7 1575.4,854.1 1576.4,852.4 1577.5,850.1 1578.6,847.6 1579.7,843.4 1580.8,837.3 1582.0,830.8 1583.1,825.7 1584.2,823.6 1585.2,825.1 1586.3,828.9 1587.4,834.3 1588.4,840.6 1589.5,852.7 1590.6,870.7 1591.6,887.1 1592.7,894.2 1593.8,891.6 1594.8,885.2 1595.9,876.9 1596.9,868.8 1598.0,860.3 1599.0,850.5 1600.0,841.0 1601.1,833.5 1602.1,827.8 1603.1,822.4 1604.1,817.4 1605.2,813.0 1606.2,809.2 1607.2,806.1 1608.2,803.9 1609.2,802.2 1610.2,800.6 1611.2,799.2 1612.2,797.8 1613.2,796.5 1614.2,795.4 1615.2,794.3 1616.3,793.3 1617.3,792.5 1618.3,791.8 1619.3,791.1 1620.3,790.6 1621.3,790.1 1622.3,789.8 1623.4,789.5 1624.4,789.3 1625.5,789.2 1626.5,789.0 1627.6,788.9 1628.7,788.7 1629.7,788.5 1630.8,788.3 1631.9,787.9 1633.0,787.2 1634.1,786.5 1635.2,785.6 1636.3,784.7 1637.4,784.0 1638.5,783.3 1639.6,782.9 1640.7,782.7 1641.9,782.9 1643.0,783.4 1644.2,784.2 1645.3,785.0 1646.5,785.8 1647.6,786.6 1648.7,787.7 1649.7,788.5 1650.8,789.0 1651.9,789.1 1652.9,789.2 1654.0,789.3 1655.1,789.3 1656.2,789.4 1657.2,789.5 1658.3,789.6 1659.4,790.2 1660.5,791.5 1661.5,793.5 1662.6,795.9 1663.7,798.7 1664.8,803.1 1665.8,809.8 1666.9,817.3 1668.0,824.5 1669.1,831.4 1670.2,838.6 1671.2,845.5 1672.3,851.4 1673.4,857.0 1674.4,862.1 1675.5,864.3 1676.6,863.5 1677.7,861.3 1678.7,858.3 1679.8,854.8 1680.9,851.4 1682.0,847.7 1683.0,843.3 1684.1,838.5 1685.2,833.6 1686.2,828.8 1687.3,824.5 1688.4,820.4 1689.5,816.3 1690.5,812.4 1691.6,808.7 1692.7,805.5 1693.8,803.0 1694.9,800.8 1695.9,798.7 1697.0,797.2 1698.1,796.6 1699.1,796.6 1700.1,796.6 1701.1,796.7 1702.1,796.8 1703.2,796.8 1704.2,796.9 1705.2,797.1 1706.2,797.2 1707.2,797.3 1708.2,797.5 1709.2,797.6 1710.2,797.8 1711.3,798.0 1712.3,798.2 1713.3,798.3 1714.3,798.5 1715.3,798.7 1716.4,798.9 1717.5,799.1 1718.5,799.4 1719.6,799.7 1720.7,800.0 1721.8,800.3 1722.8,800.7 1723.9,801.1 1725.0,801.5 1726.0,802.0 1727.1,802.5 1728.2,803.0 1729.3,803.6 1730.3,804.2 1731.4,805.0 1732.5,806.0 1733.5,807.1 1734.6,808.4 1735.7,811.0 1736.8,815.3 1737.8,820.2 1738.9,825.0 1740.0,828.5 1741.1,829.9 1742.2,828.3 1743.3,824.5 1744.3,819.6 1745.4,814.9 1746.5,811.6 1747.6,809.5 1748.7,807.6 1749.7,806.2 1750.8,805.2 1751.9,804.6 1753.0,804.1 1754.0,803.7 1755.1,803.4 1756.2,803.1 1757.2,802.9 1758.3,802.6 1759.4,802.4 1760.5,802.1 1761.5,801.8 1762.6,801.4 1763.7,800.9 1764.8,800.1 1765.8,799.1 1766.9,797.8 1768.0,796.6 1769.1,795.5 1770.1,794.7 1771.2,794.4 1772.3,794.7 1773.3,795.5 1774.4,796.5 1775.5,797.6 1776.5,798.4 1777.6,798.7 1778.7,798.7 1779.8,798.7 1780.8,798.6 1781.9,798.5 1783.0,798.5 1784.0,798.4 1785.1,798.2 1786.2,798.1 1787.3,798.0 1788.3,797.9 1789.4,797.7 1790.5,797.6 1791.5,797.4 1792.5,797.2 1793.5,796.9 1794.5,796.6 1795.6,796.3 1796.6,795.9 1797.6,795.6 1798.6,795.2 1799.6,794.8 1800.6,794.5 1801.6,794.2 1802.7,793.9 1803.7,793.6 1804.7,793.5 1805.7,793.3 1806.7,793.3 1807.8,793.5 1808.8,793.9 1809.9,794.6 1811.0,795.5 1812.1,798.2 1813.1,802.1 1814.2,804.1 1815.3,803.7 1816.3,802.7 1817.4,801.3 1818.5,799.8 1819.6,797.6 1820.8,794.6 1821.9,791.2 1823.0,788.0"/>
</g>
<g stroke="#000" stroke-width="5.8" fill="none">
<rect x="220.0" y="35.0" width="1603.5" height="1196.0"/>
<line x1="220.00" y1="1231.0" x2="220.00" y2="1252.5"/><line x1="334.54" y1="1231.0" x2="334.54" y2="1240.5"/><line x1="449.07" y1="1231.0" x2="449.07" y2="1252.5"/><line x1="563.61" y1="1231.0" x2="563.61" y2="1240.5"/><line x1="678.14" y1="1231.0" x2="678.14" y2="1252.5"/><line x1="792.68" y1="1231.0" x2="792.68" y2="1240.5"/><line x1="907.21" y1="1231.0" x2="907.21" y2="1252.5"/><line x1="1021.75" y1="1231.0" x2="1021.75" y2="1240.5"/><line x1="1136.29" y1="1231.0" x2="1136.29" y2="1252.5"/><line x1="1250.82" y1="1231.0" x2="1250.82" y2="1240.5"/><line x1="1365.36" y1="1231.0" x2="1365.36" y2="1252.5"/><line x1="1479.89" y1="1231.0" x2="1479.89" y2="1240.5"/><line x1="1594.43" y1="1231.0" x2="1594.43" y2="1252.5"/><line x1="1708.96" y1="1231.0" x2="1708.96" y2="1240.5"/><line x1="1823.50" y1="1231.0" x2="1823.50" y2="1252.5"/>
</g>
<text transform="translate(951.15,149.30) scale(1.0488,1)" font-size="64">Phloroglucinol</text><text transform="translate(962.05,483.20) scale(1.0525,1)" font-size="64">Rhodamine</text><text transform="translate(1308.74,482.60) scale(0.9571,1)" font-size="67">B</text><text transform="translate(949.52,755.20) scale(1.0613,1)" font-size="64">OCDs</text><text transform="translate(1205.70,1006.20) scale(1.0675,1)" font-size="64">C=O</text><text transform="translate(321.24,1063.00) scale(1.0542,1)" font-size="64">O–H/N–H</text><text transform="translate(625.44,1067.20) scale(1.0546,1)" font-size="64">C–H/O–H</text><text transform="translate(1285.86,1095.60) scale(1.0404,1)" font-size="64">N–H/O–H</text><text transform="translate(1415.43,1183.90) scale(1.0568,1)" font-size="64">C–O/C–N</text><text transform="translate(151.14,1318.40) scale(1.0576,1)" font-size="64">4000</text><text transform="translate(380.09,1318.40) scale(1.0573,1)" font-size="64">3500</text><text transform="translate(608.97,1318.40) scale(1.0661,1)" font-size="64">3000</text><text transform="translate(835.65,1318.40) scale(1.0837,1)" font-size="64">2500</text><text transform="translate(1065.65,1318.40) scale(1.0837,1)" font-size="64">2000</text><text transform="translate(1294.67,1318.40) scale(1.0653,1)" font-size="64">1500</text><text transform="translate(1523.53,1318.40) scale(1.0744,1)" font-size="64">1000</text><text transform="translate(1770.04,1318.40) scale(1.0868,1)" font-size="64">500</text><text transform="translate(547.44,1433.80) scale(1.0575,1)" font-size="104">Wavenumber</text><text transform="translate(1252.84,1433.80) scale(1.0402,1)" font-size="104">cm</text><text transform="translate(1419.46,1390.60) scale(1.0480,1)" font-size="68">1</text><text transform="translate(1451.80,1433.80) scale(1.1000,1)" font-size="104" style="font-weight:normal">)</text><text transform="translate(1215.23,1433.80) scale(1.1538,1)" font-size="104" style="font-weight:normal">(</text><text transform="translate(1391.53,1388.1) scale(1.183,0.75)" font-size="68">-</text>
<text transform="translate(109.60,1002.95) rotate(-90) scale(0.9747,0.9931)" font-size="104">Transmittance</text>
</svg></div>
</body></html>
